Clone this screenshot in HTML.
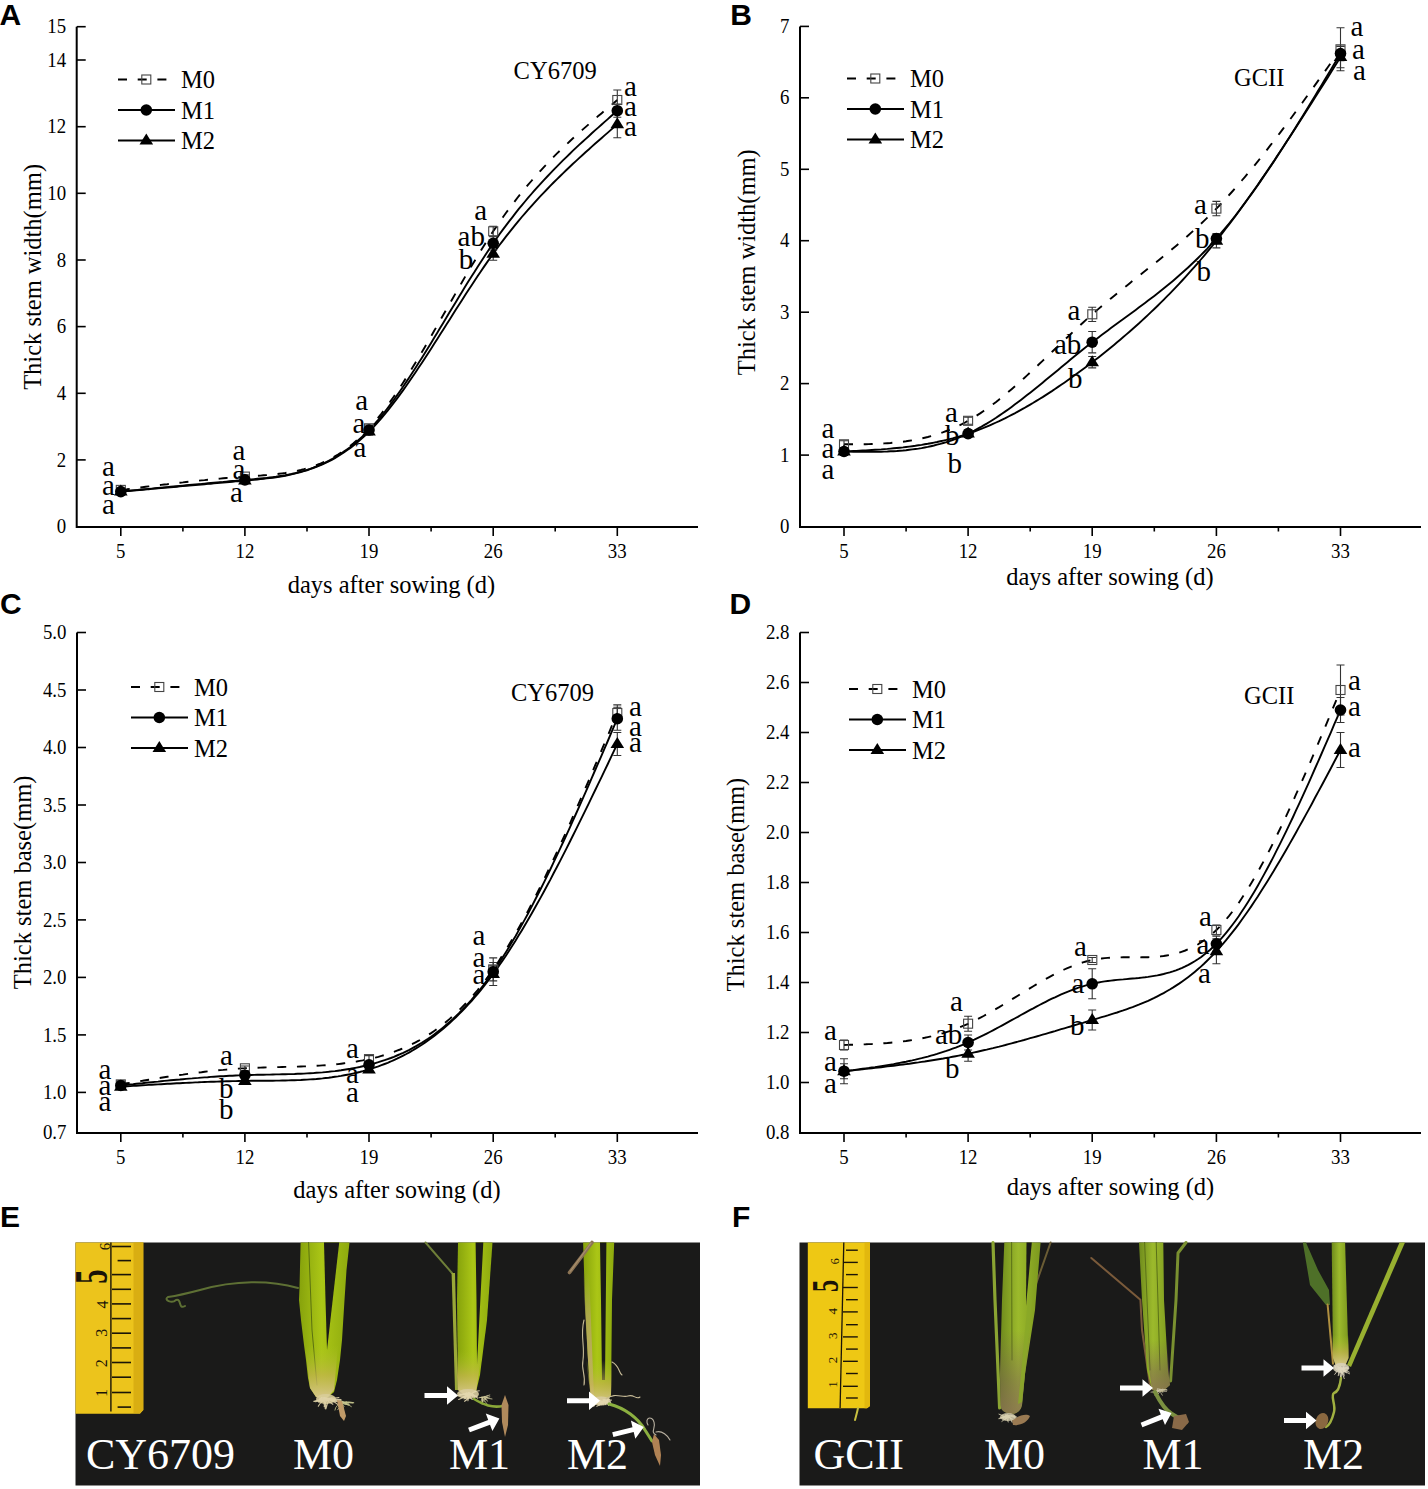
<!DOCTYPE html>
<html><head><meta charset="utf-8"><style>
html,body{margin:0;padding:0;background:#fff;}
body{width:1428px;height:1489px;overflow:hidden;font-family:"Liberation Serif",serif;}
svg{display:block;}
</style></head><body>
<svg width="1428" height="1489" viewBox="0 0 1428 1489" font-family="&quot;Liberation Serif&quot;, serif">
<rect width="100%" height="100%" fill="#fff"/>
<path d="M76.7,26.7 V527 H698" fill="none" stroke="#000" stroke-width="2"/>
<text transform="translate(66.2,533.2) scale(0.92,1)" font-size="20.5" text-anchor="end">0</text>
<line x1="76.7" y1="459.9" x2="85.7" y2="459.9" stroke="#000" stroke-width="1.6"/>
<text transform="translate(66.2,466.5) scale(0.92,1)" font-size="20.5" text-anchor="end">2</text>
<line x1="76.7" y1="393.3" x2="85.7" y2="393.3" stroke="#000" stroke-width="1.6"/>
<text transform="translate(66.2,399.9) scale(0.92,1)" font-size="20.5" text-anchor="end">4</text>
<line x1="76.7" y1="326.6" x2="85.7" y2="326.6" stroke="#000" stroke-width="1.6"/>
<text transform="translate(66.2,333.2) scale(0.92,1)" font-size="20.5" text-anchor="end">6</text>
<line x1="76.7" y1="260.0" x2="85.7" y2="260.0" stroke="#000" stroke-width="1.6"/>
<text transform="translate(66.2,266.6) scale(0.92,1)" font-size="20.5" text-anchor="end">8</text>
<line x1="76.7" y1="193.3" x2="85.7" y2="193.3" stroke="#000" stroke-width="1.6"/>
<text transform="translate(66.2,199.9) scale(0.92,1)" font-size="20.5" text-anchor="end">10</text>
<line x1="76.7" y1="126.7" x2="85.7" y2="126.7" stroke="#000" stroke-width="1.6"/>
<text transform="translate(66.2,133.3) scale(0.92,1)" font-size="20.5" text-anchor="end">12</text>
<line x1="76.7" y1="60.0" x2="85.7" y2="60.0" stroke="#000" stroke-width="1.6"/>
<text transform="translate(66.2,66.6) scale(0.92,1)" font-size="20.5" text-anchor="end">14</text>
<line x1="76.7" y1="26.7" x2="85.7" y2="26.7" stroke="#000" stroke-width="1.6"/>
<text transform="translate(66.2,33.3) scale(0.92,1)" font-size="20.5" text-anchor="end">15</text>
<line x1="120.8" y1="527" x2="120.8" y2="536" stroke="#000" stroke-width="1.6"/>
<text transform="translate(120.8,558.0) scale(0.92,1)" font-size="20.5" text-anchor="middle">5</text>
<line x1="244.9" y1="527" x2="244.9" y2="536" stroke="#000" stroke-width="1.6"/>
<text transform="translate(244.9,558.0) scale(0.92,1)" font-size="20.5" text-anchor="middle">12</text>
<line x1="369.0" y1="527" x2="369.0" y2="536" stroke="#000" stroke-width="1.6"/>
<text transform="translate(369.0,558.0) scale(0.92,1)" font-size="20.5" text-anchor="middle">19</text>
<line x1="493.2" y1="527" x2="493.2" y2="536" stroke="#000" stroke-width="1.6"/>
<text transform="translate(493.2,558.0) scale(0.92,1)" font-size="20.5" text-anchor="middle">26</text>
<line x1="617.3" y1="527" x2="617.3" y2="536" stroke="#000" stroke-width="1.6"/>
<text transform="translate(617.3,558.0) scale(0.92,1)" font-size="20.5" text-anchor="middle">33</text>
<line x1="182.9" y1="527" x2="182.9" y2="531.5" stroke="#000" stroke-width="1.6"/>
<line x1="307.0" y1="527" x2="307.0" y2="531.5" stroke="#000" stroke-width="1.6"/>
<line x1="431.1" y1="527" x2="431.1" y2="531.5" stroke="#000" stroke-width="1.6"/>
<line x1="555.2" y1="527" x2="555.2" y2="531.5" stroke="#000" stroke-width="1.6"/>
<text x="391.4" y="592.6" font-size="24.5" text-anchor="middle" fill="#000" >days after sowing (d)</text>
<text transform="translate(41.2,276.9) rotate(-90)" font-size="24.5" text-anchor="middle">Thick stem width(mm)</text>
<text x="513.6" y="79.0" font-size="24.5" text-anchor="start" fill="#000" >CY6709</text>
<path d="M120.8,489.9 L123.9,489.5 L127.0,489.2 L130.1,488.8 L133.2,488.4 L136.3,488.0 L139.4,487.6 L142.5,487.2 L145.6,486.8 L148.7,486.4 L151.8,486.0 L154.9,485.7 L158.0,485.3 L161.1,484.9 L164.2,484.5 L167.3,484.2 L170.4,483.8 L173.6,483.4 L176.7,483.1 L179.8,482.7 L182.9,482.4 L186.0,482.0 L189.1,481.7 L192.2,481.3 L195.3,481.0 L198.4,480.7 L201.5,480.4 L204.6,480.1 L207.7,479.7 L210.8,479.4 L213.9,479.1 L217.0,478.9 L220.1,478.6 L223.2,478.3 L226.3,478.0 L229.4,477.8 L232.5,477.5 L235.6,477.3 L238.7,477.1 L241.8,476.8 L244.9,476.6 L248.0,476.4 L251.1,476.2 L254.2,476.0 L257.3,475.8 L260.4,475.6 L263.5,475.3 L266.6,475.1 L269.8,474.8 L272.9,474.5 L276.0,474.2 L279.1,473.8 L282.2,473.4 L285.3,473.0 L288.4,472.5 L291.5,472.0 L294.6,471.4 L297.7,470.7 L300.8,470.0 L303.9,469.2 L307.0,468.3 L310.1,467.3 L313.2,466.3 L316.3,465.2 L319.4,464.0 L322.5,462.6 L325.6,461.2 L328.7,459.7 L331.8,458.1 L334.9,456.3 L338.0,454.5 L341.1,452.5 L344.2,450.3 L347.3,448.1 L350.4,445.7 L353.5,443.2 L356.6,440.5 L359.7,437.7 L362.8,434.7 L365.9,431.6 L369.0,428.3 L372.2,424.8 L375.3,421.2 L378.4,417.4 L381.5,413.5 L384.6,409.4 L387.7,405.2 L390.8,400.9 L393.9,396.5 L397.0,391.9 L400.1,387.2 L403.2,382.5 L406.3,377.6 L409.4,372.7 L412.5,367.6 L415.6,362.5 L418.7,357.4 L421.8,352.2 L424.9,346.9 L428.0,341.6 L431.1,336.2 L434.2,330.8 L437.3,325.4 L440.4,320.0 L443.5,314.5 L446.6,309.1 L449.7,303.6 L452.8,298.2 L455.9,292.8 L459.0,287.4 L462.1,282.0 L465.2,276.6 L468.3,271.3 L471.5,266.1 L474.6,260.9 L477.7,255.8 L480.8,250.7 L483.9,245.7 L487.0,240.8 L490.1,236.0 L493.2,231.3 L496.4,226.6 L499.5,222.0 L502.7,217.5 L505.9,213.0 L509.1,208.7 L512.3,204.5 L515.5,200.4 L518.6,196.3 L521.8,192.4 L525.0,188.5 L528.2,184.7 L531.4,181.0 L534.5,177.3 L537.7,173.8 L540.9,170.3 L544.1,166.8 L547.3,163.5 L550.5,160.2 L553.6,156.9 L556.8,153.7 L560.0,150.6 L563.2,147.5 L566.4,144.5 L569.6,141.5 L572.7,138.5 L575.9,135.6 L579.1,132.7 L582.3,129.9 L585.5,127.1 L588.7,124.3 L591.8,121.5 L595.0,118.8 L598.2,116.1 L601.4,113.4 L604.6,110.7 L607.8,108.0 L610.9,105.3 L614.1,102.7 L617.3,100.0" fill="none" stroke="#000" stroke-width="1.9" stroke-dasharray="9,10.7"/>
<path d="M120.8,491.6 L123.9,491.3 L127.0,491.0 L130.1,490.7 L133.2,490.4 L136.3,490.1 L139.4,489.8 L142.5,489.5 L145.6,489.2 L148.7,488.9 L151.8,488.6 L154.9,488.3 L158.0,488.0 L161.1,487.7 L164.2,487.4 L167.3,487.1 L170.4,486.8 L173.6,486.5 L176.7,486.2 L179.8,485.9 L182.9,485.6 L186.0,485.3 L189.1,485.0 L192.2,484.7 L195.3,484.4 L198.4,484.1 L201.5,483.9 L204.6,483.6 L207.7,483.3 L210.8,483.0 L213.9,482.7 L217.0,482.4 L220.1,482.1 L223.2,481.9 L226.3,481.6 L229.4,481.3 L232.5,481.0 L235.6,480.8 L238.7,480.5 L241.8,480.2 L244.9,479.9 L248.0,479.7 L251.1,479.4 L254.2,479.1 L257.3,478.8 L260.4,478.5 L263.5,478.2 L266.6,477.9 L269.8,477.5 L272.9,477.1 L276.0,476.7 L279.1,476.2 L282.2,475.7 L285.3,475.2 L288.4,474.6 L291.5,474.0 L294.6,473.3 L297.7,472.5 L300.8,471.7 L303.9,470.8 L307.0,469.8 L310.1,468.8 L313.2,467.7 L316.3,466.5 L319.4,465.2 L322.5,463.8 L325.6,462.4 L328.7,460.8 L331.8,459.2 L334.9,457.4 L338.0,455.5 L341.1,453.5 L344.2,451.4 L347.3,449.2 L350.4,446.9 L353.5,444.4 L356.6,441.8 L359.7,439.0 L362.8,436.1 L365.9,433.1 L369.0,430.0 L372.2,426.6 L375.3,423.2 L378.4,419.6 L381.5,415.8 L384.6,412.0 L387.7,408.0 L390.8,403.9 L393.9,399.7 L397.0,395.4 L400.1,391.0 L403.2,386.5 L406.3,381.9 L409.4,377.2 L412.5,372.5 L415.6,367.7 L418.7,362.8 L421.8,357.9 L424.9,352.9 L428.0,347.9 L431.1,342.9 L434.2,337.8 L437.3,332.7 L440.4,327.6 L443.5,322.4 L446.6,317.3 L449.7,312.1 L452.8,307.0 L455.9,301.9 L459.0,296.8 L462.1,291.7 L465.2,286.6 L468.3,281.6 L471.5,276.6 L474.6,271.7 L477.7,266.8 L480.8,261.9 L483.9,257.2 L487.0,252.5 L490.1,247.9 L493.2,243.3 L496.4,238.8 L499.5,234.3 L502.7,229.9 L505.9,225.6 L509.1,221.4 L512.3,217.3 L515.5,213.2 L518.6,209.2 L521.8,205.3 L525.0,201.5 L528.2,197.7 L531.4,194.0 L534.5,190.4 L537.7,186.8 L540.9,183.3 L544.1,179.9 L547.3,176.5 L550.5,173.1 L553.6,169.8 L556.8,166.6 L560.0,163.4 L563.2,160.2 L566.4,157.1 L569.6,154.0 L572.7,150.9 L575.9,147.9 L579.1,144.9 L582.3,142.0 L585.5,139.1 L588.7,136.2 L591.8,133.3 L595.0,130.4 L598.2,127.6 L601.4,124.7 L604.6,121.9 L607.8,119.1 L610.9,116.3 L614.1,113.5 L617.3,110.7" fill="none" stroke="#000" stroke-width="1.9"/>
<path d="M120.8,491.6 L123.9,491.3 L127.0,491.1 L130.1,490.8 L133.2,490.5 L136.3,490.2 L139.4,490.0 L142.5,489.7 L145.6,489.4 L148.7,489.2 L151.8,488.9 L154.9,488.6 L158.0,488.3 L161.1,488.1 L164.2,487.8 L167.3,487.5 L170.4,487.2 L173.6,487.0 L176.7,486.7 L179.8,486.4 L182.9,486.1 L186.0,485.9 L189.1,485.6 L192.2,485.3 L195.3,485.0 L198.4,484.8 L201.5,484.5 L204.6,484.2 L207.7,483.9 L210.8,483.7 L213.9,483.4 L217.0,483.1 L220.1,482.8 L223.2,482.6 L226.3,482.3 L229.4,482.0 L232.5,481.7 L235.6,481.4 L238.7,481.2 L241.8,480.9 L244.9,480.6 L248.0,480.3 L251.1,480.0 L254.2,479.8 L257.3,479.5 L260.4,479.1 L263.5,478.8 L266.6,478.4 L269.8,478.1 L272.9,477.7 L276.0,477.2 L279.1,476.7 L282.2,476.2 L285.3,475.7 L288.4,475.0 L291.5,474.4 L294.6,473.7 L297.7,472.9 L300.8,472.1 L303.9,471.2 L307.0,470.3 L310.1,469.2 L313.2,468.1 L316.3,466.9 L319.4,465.7 L322.5,464.3 L325.6,462.9 L328.7,461.4 L331.8,459.8 L334.9,458.1 L338.0,456.2 L341.1,454.3 L344.2,452.3 L347.3,450.1 L350.4,447.9 L353.5,445.5 L356.6,443.0 L359.7,440.3 L362.8,437.6 L365.9,434.7 L369.0,431.6 L372.2,428.4 L375.3,425.1 L378.4,421.7 L381.5,418.1 L384.6,414.4 L387.7,410.6 L390.8,406.7 L393.9,402.7 L397.0,398.6 L400.1,394.4 L403.2,390.1 L406.3,385.8 L409.4,381.3 L412.5,376.8 L415.6,372.3 L418.7,367.6 L421.8,363.0 L424.9,358.2 L428.0,353.5 L431.1,348.7 L434.2,343.8 L437.3,339.0 L440.4,334.1 L443.5,329.2 L446.6,324.3 L449.7,319.4 L452.8,314.5 L455.9,309.6 L459.0,304.7 L462.1,299.9 L465.2,295.1 L468.3,290.3 L471.5,285.5 L474.6,280.8 L477.7,276.1 L480.8,271.5 L483.9,266.9 L487.0,262.4 L490.1,258.0 L493.2,253.7 L496.4,249.3 L499.5,245.0 L502.7,240.8 L505.9,236.6 L509.1,232.6 L512.3,228.6 L515.5,224.7 L518.6,220.8 L521.8,217.0 L525.0,213.3 L528.2,209.7 L531.4,206.1 L534.5,202.6 L537.7,199.1 L540.9,195.7 L544.1,192.3 L547.3,189.0 L550.5,185.7 L553.6,182.5 L556.8,179.3 L560.0,176.2 L563.2,173.1 L566.4,170.0 L569.6,167.0 L572.7,164.0 L575.9,161.1 L579.1,158.1 L582.3,155.2 L585.5,152.3 L588.7,149.5 L591.8,146.6 L595.0,143.8 L598.2,141.0 L601.4,138.2 L604.6,135.4 L607.8,132.6 L610.9,129.9 L614.1,127.1 L617.3,124.3" fill="none" stroke="#000" stroke-width="1.9"/>
<path d="M116.8,488.3 H124.8 M120.8,488.3 V491.6 M116.8,491.6 H124.8" stroke="#333" stroke-width="1.1" fill="none"/>
<path d="M240.9,474.9 H248.9 M244.9,474.9 V478.3 M240.9,478.3 H248.9" stroke="#333" stroke-width="1.1" fill="none"/>
<path d="M365.0,425.0 H373.0 M369.0,425.0 V431.6 M365.0,431.6 H373.0" stroke="#333" stroke-width="1.1" fill="none"/>
<path d="M489.2,226.3 H497.2 M493.2,226.3 V236.3 M489.2,236.3 H497.2" stroke="#333" stroke-width="1.1" fill="none"/>
<path d="M613.3,90.0 H621.3 M617.3,90.0 V110.0 M613.3,110.0 H621.3" stroke="#333" stroke-width="1.1" fill="none"/>
<path d="M116.8,489.9 H124.8 M120.8,489.9 V493.3 M116.8,493.3 H124.8" stroke="#333" stroke-width="1.1" fill="none"/>
<path d="M240.9,478.3 H248.9 M244.9,478.3 V481.6 M240.9,481.6 H248.9" stroke="#333" stroke-width="1.1" fill="none"/>
<path d="M365.0,426.6 H373.0 M369.0,426.6 V433.3 M365.0,433.3 H373.0" stroke="#333" stroke-width="1.1" fill="none"/>
<path d="M489.2,236.7 H497.2 M493.2,236.7 V250.0 M489.2,250.0 H497.2" stroke="#333" stroke-width="1.1" fill="none"/>
<path d="M613.3,104.0 H621.3 M617.3,104.0 V117.3 M613.3,117.3 H621.3" stroke="#333" stroke-width="1.1" fill="none"/>
<path d="M116.8,489.9 H124.8 M120.8,489.9 V493.3 M116.8,493.3 H124.8" stroke="#333" stroke-width="1.1" fill="none"/>
<path d="M240.9,478.9 H248.9 M244.9,478.9 V482.3 M240.9,482.3 H248.9" stroke="#333" stroke-width="1.1" fill="none"/>
<path d="M365.0,428.3 H373.0 M369.0,428.3 V435.0 M365.0,435.0 H373.0" stroke="#333" stroke-width="1.1" fill="none"/>
<path d="M489.2,247.0 H497.2 M493.2,247.0 V260.3 M489.2,260.3 H497.2" stroke="#333" stroke-width="1.1" fill="none"/>
<path d="M613.3,111.0 H621.3 M617.3,111.0 V137.7 M613.3,137.7 H621.3" stroke="#333" stroke-width="1.1" fill="none"/>
<rect x="116.3" y="485.4" width="9" height="9" fill="none" stroke="#444" stroke-width="1.1"/>
<rect x="240.4" y="472.1" width="9" height="9" fill="none" stroke="#444" stroke-width="1.1"/>
<rect x="364.5" y="423.8" width="9" height="9" fill="none" stroke="#444" stroke-width="1.1"/>
<rect x="488.7" y="226.8" width="9" height="9" fill="none" stroke="#444" stroke-width="1.1"/>
<rect x="612.8" y="95.5" width="9" height="9" fill="none" stroke="#444" stroke-width="1.1"/>
<circle cx="120.8" cy="491.6" r="5.8" fill="#000"/>
<circle cx="244.9" cy="479.9" r="5.8" fill="#000"/>
<circle cx="369.0" cy="430.0" r="5.8" fill="#000"/>
<circle cx="493.2" cy="243.3" r="5.8" fill="#000"/>
<circle cx="617.3" cy="110.7" r="5.8" fill="#000"/>
<path d="M120.8,484.6 L127.6,495.6 L114.0,495.6 Z" fill="#000"/>
<path d="M244.9,473.6 L251.7,484.6 L238.1,484.6 Z" fill="#000"/>
<path d="M369.0,424.6 L375.8,435.6 L362.2,435.6 Z" fill="#000"/>
<path d="M493.2,246.7 L500.0,257.7 L486.4,257.7 Z" fill="#000"/>
<path d="M617.3,117.3 L624.1,128.3 L610.5,128.3 Z" fill="#000"/>
<text x="102.0" y="476.0" font-size="29" text-anchor="start" fill="#000" >a</text>
<text x="102.0" y="495.4" font-size="29" text-anchor="start" fill="#000" >a</text>
<text x="102.0" y="514.0" font-size="29" text-anchor="start" fill="#000" >a</text>
<text x="232.4" y="459.6" font-size="29" text-anchor="start" fill="#000" >a</text>
<text x="232.4" y="478.6" font-size="29" text-anchor="start" fill="#000" >a</text>
<text x="230.0" y="502.0" font-size="29" text-anchor="start" fill="#000" >a</text>
<text x="355.2" y="410.3" font-size="29" text-anchor="start" fill="#000" >a</text>
<text x="352.4" y="432.7" font-size="29" text-anchor="start" fill="#000" >a</text>
<text x="353.4" y="457.3" font-size="29" text-anchor="start" fill="#000" >a</text>
<text x="474.3" y="219.5" font-size="29" text-anchor="start" fill="#000" >a</text>
<text x="457.6" y="246.4" font-size="29" text-anchor="start" fill="#000" >ab</text>
<text x="458.8" y="269.0" font-size="29" text-anchor="start" fill="#000" >b</text>
<text x="624.0" y="95.7" font-size="29" text-anchor="start" fill="#000" >a</text>
<text x="624.0" y="116.2" font-size="29" text-anchor="start" fill="#000" >a</text>
<text x="624.0" y="135.7" font-size="29" text-anchor="start" fill="#000" >a</text>
<path d="M118,79.5 h9 M137.7,79.5 h9 M157.4,79.5 h9" stroke="#000" stroke-width="1.8"/>
<rect x="141.8" y="75.0" width="9" height="9" fill="none" stroke="#444" stroke-width="1.1"/>
<text x="181.0" y="88.1" font-size="24.5" text-anchor="start" fill="#000" >M0</text>
<line x1="118" y1="110.0" x2="175" y2="110.0" stroke="#000" stroke-width="1.8"/>
<circle cx="146.3" cy="110.0" r="5.8" fill="#000"/>
<text x="181.0" y="118.6" font-size="24.5" text-anchor="start" fill="#000" >M1</text>
<line x1="118" y1="140.5" x2="175" y2="140.5" stroke="#000" stroke-width="1.8"/>
<path d="M146.3,133.5 L153.1,144.5 L139.5,144.5 Z" fill="#000"/>
<text x="181.0" y="149.1" font-size="24.5" text-anchor="start" fill="#000" >M2</text>
<path d="M800,26.4 V527 H1421" fill="none" stroke="#000" stroke-width="2"/>
<text transform="translate(789.5,533.1) scale(0.92,1)" font-size="20.5" text-anchor="end">0</text>
<line x1="800" y1="455.1" x2="809" y2="455.1" stroke="#000" stroke-width="1.6"/>
<text transform="translate(789.5,461.7) scale(0.92,1)" font-size="20.5" text-anchor="end">1</text>
<line x1="800" y1="383.6" x2="809" y2="383.6" stroke="#000" stroke-width="1.6"/>
<text transform="translate(789.5,390.2) scale(0.92,1)" font-size="20.5" text-anchor="end">2</text>
<line x1="800" y1="312.2" x2="809" y2="312.2" stroke="#000" stroke-width="1.6"/>
<text transform="translate(789.5,318.8) scale(0.92,1)" font-size="20.5" text-anchor="end">3</text>
<line x1="800" y1="240.7" x2="809" y2="240.7" stroke="#000" stroke-width="1.6"/>
<text transform="translate(789.5,247.3) scale(0.92,1)" font-size="20.5" text-anchor="end">4</text>
<line x1="800" y1="169.3" x2="809" y2="169.3" stroke="#000" stroke-width="1.6"/>
<text transform="translate(789.5,175.9) scale(0.92,1)" font-size="20.5" text-anchor="end">5</text>
<line x1="800" y1="97.8" x2="809" y2="97.8" stroke="#000" stroke-width="1.6"/>
<text transform="translate(789.5,104.4) scale(0.92,1)" font-size="20.5" text-anchor="end">6</text>
<line x1="800" y1="26.4" x2="809" y2="26.4" stroke="#000" stroke-width="1.6"/>
<text transform="translate(789.5,33.0) scale(0.92,1)" font-size="20.5" text-anchor="end">7</text>
<line x1="844.0" y1="527" x2="844.0" y2="536" stroke="#000" stroke-width="1.6"/>
<text transform="translate(844.0,558.0) scale(0.92,1)" font-size="20.5" text-anchor="middle">5</text>
<line x1="968.1" y1="527" x2="968.1" y2="536" stroke="#000" stroke-width="1.6"/>
<text transform="translate(968.1,558.0) scale(0.92,1)" font-size="20.5" text-anchor="middle">12</text>
<line x1="1092.2" y1="527" x2="1092.2" y2="536" stroke="#000" stroke-width="1.6"/>
<text transform="translate(1092.2,558.0) scale(0.92,1)" font-size="20.5" text-anchor="middle">19</text>
<line x1="1216.4" y1="527" x2="1216.4" y2="536" stroke="#000" stroke-width="1.6"/>
<text transform="translate(1216.4,558.0) scale(0.92,1)" font-size="20.5" text-anchor="middle">26</text>
<line x1="1340.5" y1="527" x2="1340.5" y2="536" stroke="#000" stroke-width="1.6"/>
<text transform="translate(1340.5,558.0) scale(0.92,1)" font-size="20.5" text-anchor="middle">33</text>
<line x1="906.1" y1="527" x2="906.1" y2="531.5" stroke="#000" stroke-width="1.6"/>
<line x1="1030.2" y1="527" x2="1030.2" y2="531.5" stroke="#000" stroke-width="1.6"/>
<line x1="1154.3" y1="527" x2="1154.3" y2="531.5" stroke="#000" stroke-width="1.6"/>
<line x1="1278.4" y1="527" x2="1278.4" y2="531.5" stroke="#000" stroke-width="1.6"/>
<text x="1109.9" y="585.0" font-size="24.5" text-anchor="middle" fill="#000" >days after sowing (d)</text>
<text transform="translate(754.6,262.2) rotate(-90)" font-size="24.5" text-anchor="middle">Thick stem width(mm)</text>
<text x="1234.0" y="86.0" font-size="24.5" text-anchor="start" fill="#000" >GCII</text>
<path d="M844.0,444.3 L847.1,444.3 L850.2,444.3 L853.3,444.3 L856.4,444.3 L859.5,444.2 L862.6,444.2 L865.7,444.2 L868.8,444.1 L871.9,444.0 L875.0,443.9 L878.1,443.8 L881.2,443.6 L884.3,443.4 L887.4,443.2 L890.5,443.0 L893.6,442.7 L896.8,442.4 L899.9,442.1 L903.0,441.7 L906.1,441.3 L909.2,440.8 L912.3,440.3 L915.4,439.7 L918.5,439.1 L921.6,438.4 L924.7,437.7 L927.8,437.0 L930.9,436.1 L934.0,435.2 L937.1,434.3 L940.2,433.3 L943.3,432.2 L946.4,431.0 L949.5,429.8 L952.6,428.5 L955.7,427.1 L958.8,425.6 L961.9,424.1 L965.0,422.5 L968.1,420.8 L971.2,419.0 L974.3,417.1 L977.4,415.1 L980.5,413.1 L983.6,411.0 L986.7,408.8 L989.8,406.6 L993.0,404.2 L996.1,401.9 L999.2,399.4 L1002.3,396.9 L1005.4,394.4 L1008.5,391.8 L1011.6,389.2 L1014.7,386.5 L1017.8,383.8 L1020.9,381.0 L1024.0,378.2 L1027.1,375.4 L1030.2,372.5 L1033.3,369.6 L1036.4,366.7 L1039.5,363.8 L1042.6,360.9 L1045.7,357.9 L1048.8,355.0 L1051.9,352.0 L1055.0,349.0 L1058.1,346.1 L1061.2,343.1 L1064.3,340.1 L1067.4,337.2 L1070.5,334.3 L1073.6,331.3 L1076.7,328.4 L1079.8,325.6 L1082.9,322.7 L1086.0,319.9 L1089.1,317.1 L1092.2,314.3 L1095.4,311.6 L1098.5,308.9 L1101.6,306.2 L1104.7,303.6 L1107.8,301.0 L1110.9,298.4 L1114.0,295.9 L1117.1,293.4 L1120.2,290.8 L1123.3,288.3 L1126.4,285.9 L1129.5,283.4 L1132.6,280.9 L1135.7,278.5 L1138.8,276.0 L1141.9,273.5 L1145.0,271.1 L1148.1,268.6 L1151.2,266.1 L1154.3,263.7 L1157.4,261.2 L1160.5,258.7 L1163.6,256.2 L1166.7,253.6 L1169.8,251.1 L1172.9,248.5 L1176.0,245.9 L1179.1,243.3 L1182.2,240.6 L1185.3,237.9 L1188.4,235.2 L1191.5,232.4 L1194.7,229.6 L1197.8,226.7 L1200.9,223.8 L1204.0,220.9 L1207.1,217.9 L1210.2,214.8 L1213.3,211.7 L1216.4,208.6 L1219.6,205.3 L1222.7,201.9 L1225.9,198.5 L1229.1,195.0 L1232.3,191.5 L1235.5,187.9 L1238.7,184.2 L1241.8,180.5 L1245.0,176.8 L1248.2,173.0 L1251.4,169.2 L1254.6,165.3 L1257.8,161.4 L1260.9,157.4 L1264.1,153.4 L1267.3,149.3 L1270.5,145.2 L1273.7,141.1 L1276.8,137.0 L1280.0,132.8 L1283.2,128.6 L1286.4,124.3 L1289.6,120.0 L1292.8,115.7 L1295.9,111.4 L1299.1,107.1 L1302.3,102.7 L1305.5,98.3 L1308.7,93.9 L1311.9,89.5 L1315.0,85.1 L1318.2,80.6 L1321.4,76.2 L1324.6,71.7 L1327.8,67.2 L1331.0,62.7 L1334.1,58.2 L1337.3,53.8 L1340.5,49.3" fill="none" stroke="#000" stroke-width="1.9" stroke-dasharray="9,10.7"/>
<path d="M844.0,451.5 L847.1,451.5 L850.2,451.6 L853.3,451.7 L856.4,451.7 L859.5,451.7 L862.6,451.8 L865.7,451.8 L868.8,451.8 L871.9,451.8 L875.0,451.8 L878.1,451.7 L881.2,451.7 L884.3,451.6 L887.4,451.5 L890.5,451.3 L893.6,451.2 L896.8,451.0 L899.9,450.7 L903.0,450.5 L906.1,450.2 L909.2,449.8 L912.3,449.4 L915.4,449.0 L918.5,448.6 L921.6,448.1 L924.7,447.5 L927.8,446.9 L930.9,446.2 L934.0,445.5 L937.1,444.7 L940.2,443.9 L943.3,443.0 L946.4,442.1 L949.5,441.1 L952.6,440.0 L955.7,438.9 L958.8,437.7 L961.9,436.4 L965.0,435.0 L968.1,433.6 L971.2,432.1 L974.3,430.6 L977.4,428.9 L980.5,427.2 L983.6,425.4 L986.7,423.6 L989.8,421.7 L993.0,419.7 L996.1,417.7 L999.2,415.6 L1002.3,413.5 L1005.4,411.4 L1008.5,409.2 L1011.6,406.9 L1014.7,404.6 L1017.8,402.3 L1020.9,399.9 L1024.0,397.5 L1027.1,395.1 L1030.2,392.7 L1033.3,390.2 L1036.4,387.7 L1039.5,385.2 L1042.6,382.7 L1045.7,380.1 L1048.8,377.6 L1051.9,375.0 L1055.0,372.4 L1058.1,369.9 L1061.2,367.3 L1064.3,364.7 L1067.4,362.2 L1070.5,359.6 L1073.6,357.1 L1076.7,354.5 L1079.8,352.0 L1082.9,349.5 L1086.0,347.1 L1089.1,344.6 L1092.2,342.2 L1095.4,339.8 L1098.5,337.4 L1101.6,335.1 L1104.7,332.7 L1107.8,330.4 L1110.9,328.1 L1114.0,325.8 L1117.1,323.5 L1120.2,321.3 L1123.3,319.0 L1126.4,316.7 L1129.5,314.5 L1132.6,312.2 L1135.7,309.9 L1138.8,307.6 L1141.9,305.3 L1145.0,303.0 L1148.1,300.6 L1151.2,298.3 L1154.3,295.9 L1157.4,293.5 L1160.5,291.0 L1163.6,288.5 L1166.7,286.0 L1169.8,283.5 L1172.9,280.9 L1176.0,278.2 L1179.1,275.5 L1182.2,272.8 L1185.3,270.0 L1188.4,267.2 L1191.5,264.3 L1194.7,261.3 L1197.8,258.3 L1200.9,255.2 L1204.0,252.0 L1207.1,248.8 L1210.2,245.4 L1213.3,242.1 L1216.4,238.6 L1219.6,234.9 L1222.7,231.2 L1225.9,227.4 L1229.1,223.5 L1232.3,219.5 L1235.5,215.5 L1238.7,211.3 L1241.8,207.1 L1245.0,202.9 L1248.2,198.5 L1251.4,194.1 L1254.6,189.7 L1257.8,185.2 L1260.9,180.6 L1264.1,175.9 L1267.3,171.2 L1270.5,166.5 L1273.7,161.7 L1276.8,156.9 L1280.0,152.0 L1283.2,147.0 L1286.4,142.1 L1289.6,137.1 L1292.8,132.0 L1295.9,126.9 L1299.1,121.8 L1302.3,116.7 L1305.5,111.5 L1308.7,106.3 L1311.9,101.1 L1315.0,95.9 L1318.2,90.6 L1321.4,85.4 L1324.6,80.1 L1327.8,74.8 L1331.0,69.5 L1334.1,64.2 L1337.3,58.9 L1340.5,53.5" fill="none" stroke="#000" stroke-width="1.9"/>
<path d="M844.0,451.5 L847.1,451.3 L850.2,451.2 L853.3,451.0 L856.4,450.9 L859.5,450.7 L862.6,450.5 L865.7,450.4 L868.8,450.2 L871.9,450.0 L875.0,449.8 L878.1,449.6 L881.2,449.4 L884.3,449.1 L887.4,448.9 L890.5,448.6 L893.6,448.3 L896.8,448.0 L899.9,447.7 L903.0,447.4 L906.1,447.0 L909.2,446.6 L912.3,446.2 L915.4,445.8 L918.5,445.3 L921.6,444.9 L924.7,444.3 L927.8,443.8 L930.9,443.2 L934.0,442.6 L937.1,442.0 L940.2,441.3 L943.3,440.6 L946.4,439.9 L949.5,439.1 L952.6,438.3 L955.7,437.4 L958.8,436.6 L961.9,435.6 L965.0,434.6 L968.1,433.6 L971.2,432.6 L974.3,431.5 L977.4,430.3 L980.5,429.1 L983.6,427.9 L986.7,426.6 L989.8,425.3 L993.0,423.9 L996.1,422.5 L999.2,421.1 L1002.3,419.6 L1005.4,418.1 L1008.5,416.5 L1011.6,414.9 L1014.7,413.3 L1017.8,411.6 L1020.9,409.9 L1024.0,408.2 L1027.1,406.4 L1030.2,404.6 L1033.3,402.8 L1036.4,400.9 L1039.5,399.0 L1042.6,397.1 L1045.7,395.1 L1048.8,393.1 L1051.9,391.1 L1055.0,389.0 L1058.1,386.9 L1061.2,384.8 L1064.3,382.7 L1067.4,380.5 L1070.5,378.3 L1073.6,376.1 L1076.7,373.8 L1079.8,371.5 L1082.9,369.2 L1086.0,366.9 L1089.1,364.6 L1092.2,362.2 L1095.4,359.8 L1098.5,357.4 L1101.6,354.9 L1104.7,352.5 L1107.8,350.0 L1110.9,347.4 L1114.0,344.9 L1117.1,342.3 L1120.2,339.7 L1123.3,337.1 L1126.4,334.4 L1129.5,331.7 L1132.6,329.0 L1135.7,326.2 L1138.8,323.5 L1141.9,320.6 L1145.0,317.8 L1148.1,314.9 L1151.2,311.9 L1154.3,309.0 L1157.4,306.0 L1160.5,302.9 L1163.6,299.8 L1166.7,296.7 L1169.8,293.6 L1172.9,290.4 L1176.0,287.1 L1179.1,283.8 L1182.2,280.5 L1185.3,277.1 L1188.4,273.7 L1191.5,270.2 L1194.7,266.7 L1197.8,263.1 L1200.9,259.5 L1204.0,255.9 L1207.1,252.2 L1210.2,248.4 L1213.3,244.6 L1216.4,240.7 L1219.6,236.7 L1222.7,232.6 L1225.9,228.5 L1229.1,224.3 L1232.3,220.1 L1235.5,215.9 L1238.7,211.5 L1241.8,207.2 L1245.0,202.8 L1248.2,198.3 L1251.4,193.8 L1254.6,189.3 L1257.8,184.7 L1260.9,180.1 L1264.1,175.5 L1267.3,170.8 L1270.5,166.1 L1273.7,161.4 L1276.8,156.6 L1280.0,151.8 L1283.2,147.0 L1286.4,142.1 L1289.6,137.2 L1292.8,132.3 L1295.9,127.4 L1299.1,122.5 L1302.3,117.5 L1305.5,112.6 L1308.7,107.6 L1311.9,102.6 L1315.0,97.5 L1318.2,92.5 L1321.4,87.5 L1324.6,82.4 L1327.8,77.4 L1331.0,72.3 L1334.1,67.3 L1337.3,62.2 L1340.5,57.1" fill="none" stroke="#000" stroke-width="1.9"/>
<path d="M840.0,440.8 H848.0 M844.0,440.8 V447.9 M840.0,447.9 H848.0" stroke="#333" stroke-width="1.1" fill="none"/>
<path d="M964.1,417.2 H972.1 M968.1,417.2 V424.3 M964.1,424.3 H972.1" stroke="#333" stroke-width="1.1" fill="none"/>
<path d="M1088.2,307.2 H1096.2 M1092.2,307.2 V321.5 M1088.2,321.5 H1096.2" stroke="#333" stroke-width="1.1" fill="none"/>
<path d="M1212.4,201.4 H1220.4 M1216.4,201.4 V215.7 M1212.4,215.7 H1220.4" stroke="#333" stroke-width="1.1" fill="none"/>
<path d="M1336.5,27.8 H1344.5 M1340.5,27.8 V70.7 M1336.5,70.7 H1344.5" stroke="#333" stroke-width="1.1" fill="none"/>
<path d="M840.0,447.9 H848.0 M844.0,447.9 V455.1 M840.0,455.1 H848.0" stroke="#333" stroke-width="1.1" fill="none"/>
<path d="M964.1,430.1 H972.1 M968.1,430.1 V437.2 M964.1,437.2 H972.1" stroke="#333" stroke-width="1.1" fill="none"/>
<path d="M1088.2,331.5 H1096.2 M1092.2,331.5 V352.9 M1088.2,352.9 H1096.2" stroke="#333" stroke-width="1.1" fill="none"/>
<path d="M1212.4,235.0 H1220.4 M1216.4,235.0 V242.2 M1212.4,242.2 H1220.4" stroke="#333" stroke-width="1.1" fill="none"/>
<path d="M1336.5,46.4 H1344.5 M1340.5,46.4 V60.7 M1336.5,60.7 H1344.5" stroke="#333" stroke-width="1.1" fill="none"/>
<path d="M840.0,447.9 H848.0 M844.0,447.9 V455.1 M840.0,455.1 H848.0" stroke="#333" stroke-width="1.1" fill="none"/>
<path d="M964.1,430.1 H972.1 M968.1,430.1 V437.2 M964.1,437.2 H972.1" stroke="#333" stroke-width="1.1" fill="none"/>
<path d="M1088.2,356.5 H1096.2 M1092.2,356.5 V367.9 M1088.2,367.9 H1096.2" stroke="#333" stroke-width="1.1" fill="none"/>
<path d="M1212.4,233.6 H1220.4 M1216.4,233.6 V247.9 M1212.4,247.9 H1220.4" stroke="#333" stroke-width="1.1" fill="none"/>
<path d="M1336.5,46.4 H1344.5 M1340.5,46.4 V67.8 M1336.5,67.8 H1344.5" stroke="#333" stroke-width="1.1" fill="none"/>
<rect x="839.5" y="439.8" width="9" height="9" fill="none" stroke="#444" stroke-width="1.1"/>
<rect x="963.6" y="416.3" width="9" height="9" fill="none" stroke="#444" stroke-width="1.1"/>
<rect x="1087.8" y="309.8" width="9" height="9" fill="none" stroke="#444" stroke-width="1.1"/>
<rect x="1211.9" y="204.1" width="9" height="9" fill="none" stroke="#444" stroke-width="1.1"/>
<rect x="1336.0" y="44.8" width="9" height="9" fill="none" stroke="#444" stroke-width="1.1"/>
<circle cx="844.0" cy="451.5" r="5.8" fill="#000"/>
<circle cx="968.1" cy="433.6" r="5.8" fill="#000"/>
<circle cx="1092.2" cy="342.2" r="5.8" fill="#000"/>
<circle cx="1216.4" cy="238.6" r="5.8" fill="#000"/>
<circle cx="1340.5" cy="53.5" r="5.8" fill="#000"/>
<path d="M844.0,444.5 L850.8,455.5 L837.2,455.5 Z" fill="#000"/>
<path d="M968.1,426.6 L974.9,437.6 L961.3,437.6 Z" fill="#000"/>
<path d="M1092.2,355.2 L1099.0,366.2 L1085.5,366.2 Z" fill="#000"/>
<path d="M1216.4,233.7 L1223.2,244.7 L1209.6,244.7 Z" fill="#000"/>
<path d="M1340.5,50.1 L1347.3,61.1 L1333.7,61.1 Z" fill="#000"/>
<text x="821.5" y="437.5" font-size="29" text-anchor="start" fill="#000" >a</text>
<text x="821.5" y="457.5" font-size="29" text-anchor="start" fill="#000" >a</text>
<text x="821.5" y="479.0" font-size="29" text-anchor="start" fill="#000" >a</text>
<text x="945.0" y="421.5" font-size="29" text-anchor="start" fill="#000" >a</text>
<text x="945.0" y="445.0" font-size="29" text-anchor="start" fill="#000" >b</text>
<text x="947.5" y="472.5" font-size="29" text-anchor="start" fill="#000" >b</text>
<text x="1067.5" y="320.0" font-size="29" text-anchor="start" fill="#000" >a</text>
<text x="1054.0" y="354.0" font-size="29" text-anchor="start" fill="#000" >ab</text>
<text x="1068.0" y="387.5" font-size="29" text-anchor="start" fill="#000" >b</text>
<text x="1194.0" y="213.5" font-size="29" text-anchor="start" fill="#000" >a</text>
<text x="1195.0" y="247.5" font-size="29" text-anchor="start" fill="#000" >b</text>
<text x="1196.5" y="281.0" font-size="29" text-anchor="start" fill="#000" >b</text>
<text x="1350.5" y="35.5" font-size="29" text-anchor="start" fill="#000" >a</text>
<text x="1352.0" y="58.8" font-size="29" text-anchor="start" fill="#000" >a</text>
<text x="1353.0" y="79.6" font-size="29" text-anchor="start" fill="#000" >a</text>
<path d="M847,78.5 h9 M866.7,78.5 h9 M886.4,78.5 h9" stroke="#000" stroke-width="1.8"/>
<rect x="870.8" y="74.0" width="9" height="9" fill="none" stroke="#444" stroke-width="1.1"/>
<text x="910.0" y="87.1" font-size="24.5" text-anchor="start" fill="#000" >M0</text>
<line x1="847" y1="109.0" x2="904" y2="109.0" stroke="#000" stroke-width="1.8"/>
<circle cx="875.3" cy="109.0" r="5.8" fill="#000"/>
<text x="910.0" y="117.6" font-size="24.5" text-anchor="start" fill="#000" >M1</text>
<line x1="847" y1="139.5" x2="904" y2="139.5" stroke="#000" stroke-width="1.8"/>
<path d="M875.3,132.5 L882.1,143.5 L868.5,143.5 Z" fill="#000"/>
<text x="910.0" y="148.1" font-size="24.5" text-anchor="start" fill="#000" >M2</text>
<path d="M77,632.5 V1133 H698" fill="none" stroke="#000" stroke-width="2"/>
<text transform="translate(66.5,1139.2) scale(0.92,1)" font-size="20.5" text-anchor="end">0.7</text>
<line x1="77" y1="1092.4" x2="86" y2="1092.4" stroke="#000" stroke-width="1.6"/>
<text transform="translate(66.5,1099.0) scale(0.92,1)" font-size="20.5" text-anchor="end">1.0</text>
<line x1="77" y1="1034.9" x2="86" y2="1034.9" stroke="#000" stroke-width="1.6"/>
<text transform="translate(66.5,1041.5) scale(0.92,1)" font-size="20.5" text-anchor="end">1.5</text>
<line x1="77" y1="977.4" x2="86" y2="977.4" stroke="#000" stroke-width="1.6"/>
<text transform="translate(66.5,984.0) scale(0.92,1)" font-size="20.5" text-anchor="end">2.0</text>
<line x1="77" y1="919.9" x2="86" y2="919.9" stroke="#000" stroke-width="1.6"/>
<text transform="translate(66.5,926.5) scale(0.92,1)" font-size="20.5" text-anchor="end">2.5</text>
<line x1="77" y1="862.5" x2="86" y2="862.5" stroke="#000" stroke-width="1.6"/>
<text transform="translate(66.5,869.1) scale(0.92,1)" font-size="20.5" text-anchor="end">3.0</text>
<line x1="77" y1="805.0" x2="86" y2="805.0" stroke="#000" stroke-width="1.6"/>
<text transform="translate(66.5,811.6) scale(0.92,1)" font-size="20.5" text-anchor="end">3.5</text>
<line x1="77" y1="747.5" x2="86" y2="747.5" stroke="#000" stroke-width="1.6"/>
<text transform="translate(66.5,754.1) scale(0.92,1)" font-size="20.5" text-anchor="end">4.0</text>
<line x1="77" y1="690.0" x2="86" y2="690.0" stroke="#000" stroke-width="1.6"/>
<text transform="translate(66.5,696.6) scale(0.92,1)" font-size="20.5" text-anchor="end">4.5</text>
<line x1="77" y1="632.5" x2="86" y2="632.5" stroke="#000" stroke-width="1.6"/>
<text transform="translate(66.5,639.1) scale(0.92,1)" font-size="20.5" text-anchor="end">5.0</text>
<line x1="120.8" y1="1133" x2="120.8" y2="1142" stroke="#000" stroke-width="1.6"/>
<text transform="translate(120.8,1164.0) scale(0.92,1)" font-size="20.5" text-anchor="middle">5</text>
<line x1="244.9" y1="1133" x2="244.9" y2="1142" stroke="#000" stroke-width="1.6"/>
<text transform="translate(244.9,1164.0) scale(0.92,1)" font-size="20.5" text-anchor="middle">12</text>
<line x1="369.0" y1="1133" x2="369.0" y2="1142" stroke="#000" stroke-width="1.6"/>
<text transform="translate(369.0,1164.0) scale(0.92,1)" font-size="20.5" text-anchor="middle">19</text>
<line x1="493.2" y1="1133" x2="493.2" y2="1142" stroke="#000" stroke-width="1.6"/>
<text transform="translate(493.2,1164.0) scale(0.92,1)" font-size="20.5" text-anchor="middle">26</text>
<line x1="617.3" y1="1133" x2="617.3" y2="1142" stroke="#000" stroke-width="1.6"/>
<text transform="translate(617.3,1164.0) scale(0.92,1)" font-size="20.5" text-anchor="middle">33</text>
<line x1="182.9" y1="1133" x2="182.9" y2="1137.5" stroke="#000" stroke-width="1.6"/>
<line x1="307.0" y1="1133" x2="307.0" y2="1137.5" stroke="#000" stroke-width="1.6"/>
<line x1="431.1" y1="1133" x2="431.1" y2="1137.5" stroke="#000" stroke-width="1.6"/>
<line x1="555.2" y1="1133" x2="555.2" y2="1137.5" stroke="#000" stroke-width="1.6"/>
<text x="396.9" y="1197.7" font-size="24.5" text-anchor="middle" fill="#000" >days after sowing (d)</text>
<text transform="translate(31,882.4) rotate(-90)" font-size="24.5" text-anchor="middle">Thick stem base(mm)</text>
<text x="511.0" y="701.0" font-size="24.5" text-anchor="start" fill="#000" >CY6709</text>
<path d="M120.8,1084.4 L123.9,1083.8 L127.0,1083.3 L130.1,1082.8 L133.2,1082.3 L136.3,1081.8 L139.4,1081.3 L142.5,1080.8 L145.6,1080.2 L148.7,1079.7 L151.8,1079.2 L154.9,1078.8 L158.0,1078.3 L161.1,1077.8 L164.2,1077.3 L167.3,1076.8 L170.4,1076.4 L173.6,1075.9 L176.7,1075.5 L179.8,1075.0 L182.9,1074.6 L186.0,1074.1 L189.1,1073.7 L192.2,1073.3 L195.3,1072.9 L198.4,1072.5 L201.5,1072.2 L204.6,1071.8 L207.7,1071.4 L210.8,1071.1 L213.9,1070.8 L217.0,1070.4 L220.1,1070.1 L223.2,1069.9 L226.3,1069.6 L229.4,1069.3 L232.5,1069.1 L235.6,1068.8 L238.7,1068.6 L241.8,1068.4 L244.9,1068.3 L248.0,1068.1 L251.1,1067.9 L254.2,1067.8 L257.3,1067.7 L260.4,1067.6 L263.5,1067.5 L266.6,1067.4 L269.8,1067.3 L272.9,1067.2 L276.0,1067.2 L279.1,1067.1 L282.2,1067.0 L285.3,1066.9 L288.4,1066.9 L291.5,1066.8 L294.6,1066.7 L297.7,1066.6 L300.8,1066.5 L303.9,1066.4 L307.0,1066.3 L310.1,1066.1 L313.2,1066.0 L316.3,1065.8 L319.4,1065.6 L322.5,1065.4 L325.6,1065.2 L328.7,1065.0 L331.8,1064.7 L334.9,1064.4 L338.0,1064.1 L341.1,1063.7 L344.2,1063.3 L347.3,1062.9 L350.4,1062.5 L353.5,1062.0 L356.6,1061.5 L359.7,1060.9 L362.8,1060.4 L365.9,1059.7 L369.0,1059.1 L372.2,1058.3 L375.3,1057.6 L378.4,1056.8 L381.5,1055.9 L384.6,1055.0 L387.7,1054.0 L390.8,1053.0 L393.9,1051.9 L397.0,1050.7 L400.1,1049.5 L403.2,1048.2 L406.3,1046.9 L409.4,1045.4 L412.5,1043.9 L415.6,1042.3 L418.7,1040.7 L421.8,1038.9 L424.9,1037.1 L428.0,1035.1 L431.1,1033.1 L434.2,1031.0 L437.3,1028.8 L440.4,1026.5 L443.5,1024.0 L446.6,1021.5 L449.7,1018.9 L452.8,1016.1 L455.9,1013.3 L459.0,1010.3 L462.1,1007.2 L465.2,1004.0 L468.3,1000.7 L471.5,997.3 L474.6,993.7 L477.7,990.0 L480.8,986.1 L483.9,982.1 L487.0,978.0 L490.1,973.8 L493.2,969.4 L496.4,964.7 L499.5,959.9 L502.7,955.0 L505.9,949.9 L509.1,944.6 L512.3,939.3 L515.5,933.8 L518.6,928.1 L521.8,922.4 L525.0,916.5 L528.2,910.6 L531.4,904.5 L534.5,898.3 L537.7,892.0 L540.9,885.6 L544.1,879.1 L547.3,872.5 L550.5,865.9 L553.6,859.1 L556.8,852.3 L560.0,845.4 L563.2,838.4 L566.4,831.4 L569.6,824.3 L572.7,817.1 L575.9,809.9 L579.1,802.7 L582.3,795.4 L585.5,788.0 L588.7,780.6 L591.8,773.2 L595.0,765.7 L598.2,758.3 L601.4,750.7 L604.6,743.2 L607.8,735.7 L610.9,728.1 L614.1,720.6 L617.3,713.0" fill="none" stroke="#000" stroke-width="1.9" stroke-dasharray="9,10.7"/>
<path d="M120.8,1085.5 L123.9,1085.2 L127.0,1084.8 L130.1,1084.5 L133.2,1084.2 L136.3,1083.8 L139.4,1083.5 L142.5,1083.2 L145.6,1082.8 L148.7,1082.5 L151.8,1082.2 L154.9,1081.9 L158.0,1081.6 L161.1,1081.2 L164.2,1080.9 L167.3,1080.6 L170.4,1080.3 L173.6,1080.0 L176.7,1079.7 L179.8,1079.5 L182.9,1079.2 L186.0,1078.9 L189.1,1078.6 L192.2,1078.4 L195.3,1078.1 L198.4,1077.9 L201.5,1077.6 L204.6,1077.4 L207.7,1077.2 L210.8,1076.9 L213.9,1076.7 L217.0,1076.5 L220.1,1076.3 L223.2,1076.2 L226.3,1076.0 L229.4,1075.8 L232.5,1075.7 L235.6,1075.5 L238.7,1075.4 L241.8,1075.3 L244.9,1075.2 L248.0,1075.1 L251.1,1075.0 L254.2,1074.9 L257.3,1074.8 L260.4,1074.7 L263.5,1074.7 L266.6,1074.6 L269.8,1074.6 L272.9,1074.5 L276.0,1074.4 L279.1,1074.4 L282.2,1074.3 L285.3,1074.2 L288.4,1074.1 L291.5,1074.1 L294.6,1074.0 L297.7,1073.8 L300.8,1073.7 L303.9,1073.6 L307.0,1073.4 L310.1,1073.2 L313.2,1073.1 L316.3,1072.8 L319.4,1072.6 L322.5,1072.4 L325.6,1072.1 L328.7,1071.8 L331.8,1071.4 L334.9,1071.1 L338.0,1070.7 L341.1,1070.3 L344.2,1069.8 L347.3,1069.3 L350.4,1068.8 L353.5,1068.2 L356.6,1067.6 L359.7,1067.0 L362.8,1066.3 L365.9,1065.6 L369.0,1064.8 L372.2,1064.0 L375.3,1063.1 L378.4,1062.2 L381.5,1061.2 L384.6,1060.2 L387.7,1059.1 L390.8,1058.0 L393.9,1056.8 L397.0,1055.5 L400.1,1054.2 L403.2,1052.8 L406.3,1051.3 L409.4,1049.8 L412.5,1048.1 L415.6,1046.4 L418.7,1044.6 L421.8,1042.8 L424.9,1040.8 L428.0,1038.8 L431.1,1036.7 L434.2,1034.4 L437.3,1032.1 L440.4,1029.7 L443.5,1027.2 L446.6,1024.6 L449.7,1021.9 L452.8,1019.1 L455.9,1016.1 L459.0,1013.1 L462.1,1009.9 L465.2,1006.7 L468.3,1003.3 L471.5,999.8 L474.6,996.1 L477.7,992.4 L480.8,988.5 L483.9,984.5 L487.0,980.4 L490.1,976.1 L493.2,971.7 L496.4,967.0 L499.5,962.2 L502.7,957.3 L505.9,952.2 L509.1,947.0 L512.3,941.6 L515.5,936.2 L518.6,930.6 L521.8,924.9 L525.0,919.1 L528.2,913.2 L531.4,907.1 L534.5,901.0 L537.7,894.8 L540.9,888.5 L544.1,882.1 L547.3,875.6 L550.5,869.0 L553.6,862.4 L556.8,855.7 L560.0,848.9 L563.2,842.0 L566.4,835.1 L569.6,828.1 L572.7,821.1 L575.9,814.0 L579.1,806.8 L582.3,799.7 L585.5,792.4 L588.7,785.2 L591.8,777.9 L595.0,770.5 L598.2,763.2 L601.4,755.8 L604.6,748.4 L607.8,741.0 L610.9,733.6 L614.1,726.2 L617.3,718.7" fill="none" stroke="#000" stroke-width="1.9"/>
<path d="M120.8,1086.7 L123.9,1086.5 L127.0,1086.3 L130.1,1086.1 L133.2,1085.9 L136.3,1085.7 L139.4,1085.5 L142.5,1085.3 L145.6,1085.1 L148.7,1084.9 L151.8,1084.7 L154.9,1084.5 L158.0,1084.4 L161.1,1084.2 L164.2,1084.0 L167.3,1083.8 L170.4,1083.7 L173.6,1083.5 L176.7,1083.3 L179.8,1083.2 L182.9,1083.0 L186.0,1082.9 L189.1,1082.7 L192.2,1082.6 L195.3,1082.4 L198.4,1082.3 L201.5,1082.1 L204.6,1082.0 L207.7,1081.9 L210.8,1081.8 L213.9,1081.7 L217.0,1081.6 L220.1,1081.5 L223.2,1081.4 L226.3,1081.3 L229.4,1081.2 L232.5,1081.1 L235.6,1081.1 L238.7,1081.0 L241.8,1080.9 L244.9,1080.9 L248.0,1080.9 L251.1,1080.8 L254.2,1080.8 L257.3,1080.8 L260.4,1080.8 L263.5,1080.7 L266.6,1080.7 L269.8,1080.7 L272.9,1080.7 L276.0,1080.6 L279.1,1080.6 L282.2,1080.5 L285.3,1080.5 L288.4,1080.4 L291.5,1080.3 L294.6,1080.2 L297.7,1080.1 L300.8,1080.0 L303.9,1079.8 L307.0,1079.6 L310.1,1079.4 L313.2,1079.2 L316.3,1079.0 L319.4,1078.7 L322.5,1078.4 L325.6,1078.0 L328.7,1077.7 L331.8,1077.3 L334.9,1076.8 L338.0,1076.4 L341.1,1075.9 L344.2,1075.3 L347.3,1074.7 L350.4,1074.1 L353.5,1073.5 L356.6,1072.7 L359.7,1072.0 L362.8,1071.2 L365.9,1070.3 L369.0,1069.4 L372.2,1068.4 L375.3,1067.4 L378.4,1066.4 L381.5,1065.2 L384.6,1064.0 L387.7,1062.8 L390.8,1061.5 L393.9,1060.1 L397.0,1058.7 L400.1,1057.2 L403.2,1055.6 L406.3,1054.0 L409.4,1052.3 L412.5,1050.5 L415.6,1048.6 L418.7,1046.7 L421.8,1044.7 L424.9,1042.6 L428.0,1040.5 L431.1,1038.2 L434.2,1035.9 L437.3,1033.5 L440.4,1031.0 L443.5,1028.4 L446.6,1025.7 L449.7,1023.0 L452.8,1020.1 L455.9,1017.2 L459.0,1014.1 L462.1,1011.0 L465.2,1007.8 L468.3,1004.4 L471.5,1001.0 L474.6,997.4 L477.7,993.8 L480.8,990.1 L483.9,986.2 L487.0,982.2 L490.1,978.2 L493.2,974.0 L496.4,969.6 L499.5,965.0 L502.7,960.4 L505.9,955.7 L509.1,950.8 L512.3,945.8 L515.5,940.8 L518.6,935.6 L521.8,930.4 L525.0,925.0 L528.2,919.6 L531.4,914.1 L534.5,908.5 L537.7,902.8 L540.9,897.1 L544.1,891.2 L547.3,885.3 L550.5,879.4 L553.6,873.3 L556.8,867.3 L560.0,861.1 L563.2,854.9 L566.4,848.6 L569.6,842.3 L572.7,836.0 L575.9,829.6 L579.1,823.2 L582.3,816.7 L585.5,810.2 L588.7,803.7 L591.8,797.1 L595.0,790.5 L598.2,783.9 L601.4,777.3 L604.6,770.7 L607.8,764.0 L610.9,757.4 L614.1,750.7 L617.3,744.0" fill="none" stroke="#000" stroke-width="1.9"/>
<path d="M116.8,1080.9 H124.8 M120.8,1080.9 V1087.8 M116.8,1087.8 H124.8" stroke="#333" stroke-width="1.1" fill="none"/>
<path d="M240.9,1066.0 H248.9 M244.9,1066.0 V1070.6 M240.9,1070.6 H248.9" stroke="#333" stroke-width="1.1" fill="none"/>
<path d="M365.0,1055.6 H373.0 M369.0,1055.6 V1062.5 M365.0,1062.5 H373.0" stroke="#333" stroke-width="1.1" fill="none"/>
<path d="M489.2,957.9 H497.2 M493.2,957.9 V980.9 M489.2,980.9 H497.2" stroke="#333" stroke-width="1.1" fill="none"/>
<path d="M613.3,704.9 H621.3 M617.3,704.9 V721.0 M613.3,721.0 H621.3" stroke="#333" stroke-width="1.1" fill="none"/>
<path d="M116.8,1083.2 H124.8 M120.8,1083.2 V1087.8 M116.8,1087.8 H124.8" stroke="#333" stroke-width="1.1" fill="none"/>
<path d="M240.9,1072.9 H248.9 M244.9,1072.9 V1077.5 M240.9,1077.5 H248.9" stroke="#333" stroke-width="1.1" fill="none"/>
<path d="M365.0,1062.5 H373.0 M369.0,1062.5 V1067.1 M365.0,1067.1 H373.0" stroke="#333" stroke-width="1.1" fill="none"/>
<path d="M489.2,965.9 H497.2 M493.2,965.9 V977.4 M489.2,977.4 H497.2" stroke="#333" stroke-width="1.1" fill="none"/>
<path d="M613.3,707.2 H621.3 M617.3,707.2 V730.2 M613.3,730.2 H621.3" stroke="#333" stroke-width="1.1" fill="none"/>
<path d="M116.8,1084.4 H124.8 M120.8,1084.4 V1089.0 M116.8,1089.0 H124.8" stroke="#333" stroke-width="1.1" fill="none"/>
<path d="M240.9,1078.6 H248.9 M244.9,1078.6 V1083.2 M240.9,1083.2 H248.9" stroke="#333" stroke-width="1.1" fill="none"/>
<path d="M365.0,1067.1 H373.0 M369.0,1067.1 V1071.7 M365.0,1071.7 H373.0" stroke="#333" stroke-width="1.1" fill="none"/>
<path d="M489.2,962.5 H497.2 M493.2,962.5 V985.5 M489.2,985.5 H497.2" stroke="#333" stroke-width="1.1" fill="none"/>
<path d="M613.3,732.5 H621.3 M617.3,732.5 V755.5 M613.3,755.5 H621.3" stroke="#333" stroke-width="1.1" fill="none"/>
<rect x="116.3" y="1079.9" width="9" height="9" fill="none" stroke="#444" stroke-width="1.1"/>
<rect x="240.4" y="1063.8" width="9" height="9" fill="none" stroke="#444" stroke-width="1.1"/>
<rect x="364.5" y="1054.6" width="9" height="9" fill="none" stroke="#444" stroke-width="1.1"/>
<rect x="488.7" y="964.9" width="9" height="9" fill="none" stroke="#444" stroke-width="1.1"/>
<rect x="612.8" y="708.5" width="9" height="9" fill="none" stroke="#444" stroke-width="1.1"/>
<circle cx="120.8" cy="1085.5" r="5.8" fill="#000"/>
<circle cx="244.9" cy="1075.2" r="5.8" fill="#000"/>
<circle cx="369.0" cy="1064.8" r="5.8" fill="#000"/>
<circle cx="493.2" cy="971.7" r="5.8" fill="#000"/>
<circle cx="617.3" cy="718.7" r="5.8" fill="#000"/>
<path d="M120.8,1079.7 L127.6,1090.7 L114.0,1090.7 Z" fill="#000"/>
<path d="M244.9,1073.9 L251.7,1084.9 L238.1,1084.9 Z" fill="#000"/>
<path d="M369.0,1062.4 L375.8,1073.4 L362.2,1073.4 Z" fill="#000"/>
<path d="M493.2,967.0 L500.0,978.0 L486.4,978.0 Z" fill="#000"/>
<path d="M617.3,737.0 L624.1,748.0 L610.5,748.0 Z" fill="#000"/>
<text x="98.5" y="1079.0" font-size="29" text-anchor="start" fill="#000" >a</text>
<text x="98.5" y="1095.0" font-size="29" text-anchor="start" fill="#000" >a</text>
<text x="98.5" y="1111.0" font-size="29" text-anchor="start" fill="#000" >a</text>
<text x="220.0" y="1065.0" font-size="29" text-anchor="start" fill="#000" >a</text>
<text x="219.0" y="1097.5" font-size="29" text-anchor="start" fill="#000" >b</text>
<text x="219.0" y="1118.5" font-size="29" text-anchor="start" fill="#000" >b</text>
<text x="346.0" y="1057.5" font-size="29" text-anchor="start" fill="#000" >a</text>
<text x="346.0" y="1082.5" font-size="29" text-anchor="start" fill="#000" >a</text>
<text x="346.0" y="1101.5" font-size="29" text-anchor="start" fill="#000" >a</text>
<text x="472.5" y="945.0" font-size="29" text-anchor="start" fill="#000" >a</text>
<text x="472.5" y="966.5" font-size="29" text-anchor="start" fill="#000" >a</text>
<text x="472.5" y="983.5" font-size="29" text-anchor="start" fill="#000" >a</text>
<text x="629.0" y="715.5" font-size="29" text-anchor="start" fill="#000" >a</text>
<text x="629.0" y="736.0" font-size="29" text-anchor="start" fill="#000" >a</text>
<text x="629.0" y="751.5" font-size="29" text-anchor="start" fill="#000" >a</text>
<path d="M131,687.0 h9 M150.7,687.0 h9 M170.4,687.0 h9" stroke="#000" stroke-width="1.8"/>
<rect x="154.8" y="682.5" width="9" height="9" fill="none" stroke="#444" stroke-width="1.1"/>
<text x="194.0" y="695.6" font-size="24.5" text-anchor="start" fill="#000" >M0</text>
<line x1="131" y1="717.5" x2="188" y2="717.5" stroke="#000" stroke-width="1.8"/>
<circle cx="159.3" cy="717.5" r="5.8" fill="#000"/>
<text x="194.0" y="726.1" font-size="24.5" text-anchor="start" fill="#000" >M1</text>
<line x1="131" y1="748.0" x2="188" y2="748.0" stroke="#000" stroke-width="1.8"/>
<path d="M159.3,741.0 L166.1,752.0 L152.5,752.0 Z" fill="#000"/>
<text x="194.0" y="756.6" font-size="24.5" text-anchor="start" fill="#000" >M2</text>
<path d="M800,632.5 V1133 H1421" fill="none" stroke="#000" stroke-width="2"/>
<text transform="translate(789.5,1139.1) scale(0.92,1)" font-size="20.5" text-anchor="end">0.8</text>
<line x1="800" y1="1082.5" x2="809" y2="1082.5" stroke="#000" stroke-width="1.6"/>
<text transform="translate(789.5,1089.1) scale(0.92,1)" font-size="20.5" text-anchor="end">1.0</text>
<line x1="800" y1="1032.5" x2="809" y2="1032.5" stroke="#000" stroke-width="1.6"/>
<text transform="translate(789.5,1039.1) scale(0.92,1)" font-size="20.5" text-anchor="end">1.2</text>
<line x1="800" y1="982.5" x2="809" y2="982.5" stroke="#000" stroke-width="1.6"/>
<text transform="translate(789.5,989.1) scale(0.92,1)" font-size="20.5" text-anchor="end">1.4</text>
<line x1="800" y1="932.5" x2="809" y2="932.5" stroke="#000" stroke-width="1.6"/>
<text transform="translate(789.5,939.1) scale(0.92,1)" font-size="20.5" text-anchor="end">1.6</text>
<line x1="800" y1="882.5" x2="809" y2="882.5" stroke="#000" stroke-width="1.6"/>
<text transform="translate(789.5,889.1) scale(0.92,1)" font-size="20.5" text-anchor="end">1.8</text>
<line x1="800" y1="832.5" x2="809" y2="832.5" stroke="#000" stroke-width="1.6"/>
<text transform="translate(789.5,839.1) scale(0.92,1)" font-size="20.5" text-anchor="end">2.0</text>
<line x1="800" y1="782.5" x2="809" y2="782.5" stroke="#000" stroke-width="1.6"/>
<text transform="translate(789.5,789.1) scale(0.92,1)" font-size="20.5" text-anchor="end">2.2</text>
<line x1="800" y1="732.5" x2="809" y2="732.5" stroke="#000" stroke-width="1.6"/>
<text transform="translate(789.5,739.1) scale(0.92,1)" font-size="20.5" text-anchor="end">2.4</text>
<line x1="800" y1="682.5" x2="809" y2="682.5" stroke="#000" stroke-width="1.6"/>
<text transform="translate(789.5,689.1) scale(0.92,1)" font-size="20.5" text-anchor="end">2.6</text>
<line x1="800" y1="632.5" x2="809" y2="632.5" stroke="#000" stroke-width="1.6"/>
<text transform="translate(789.5,639.1) scale(0.92,1)" font-size="20.5" text-anchor="end">2.8</text>
<line x1="844.0" y1="1133" x2="844.0" y2="1142" stroke="#000" stroke-width="1.6"/>
<text transform="translate(844.0,1164.0) scale(0.92,1)" font-size="20.5" text-anchor="middle">5</text>
<line x1="968.1" y1="1133" x2="968.1" y2="1142" stroke="#000" stroke-width="1.6"/>
<text transform="translate(968.1,1164.0) scale(0.92,1)" font-size="20.5" text-anchor="middle">12</text>
<line x1="1092.2" y1="1133" x2="1092.2" y2="1142" stroke="#000" stroke-width="1.6"/>
<text transform="translate(1092.2,1164.0) scale(0.92,1)" font-size="20.5" text-anchor="middle">19</text>
<line x1="1216.4" y1="1133" x2="1216.4" y2="1142" stroke="#000" stroke-width="1.6"/>
<text transform="translate(1216.4,1164.0) scale(0.92,1)" font-size="20.5" text-anchor="middle">26</text>
<line x1="1340.5" y1="1133" x2="1340.5" y2="1142" stroke="#000" stroke-width="1.6"/>
<text transform="translate(1340.5,1164.0) scale(0.92,1)" font-size="20.5" text-anchor="middle">33</text>
<line x1="906.1" y1="1133" x2="906.1" y2="1137.5" stroke="#000" stroke-width="1.6"/>
<line x1="1030.2" y1="1133" x2="1030.2" y2="1137.5" stroke="#000" stroke-width="1.6"/>
<line x1="1154.3" y1="1133" x2="1154.3" y2="1137.5" stroke="#000" stroke-width="1.6"/>
<line x1="1278.4" y1="1133" x2="1278.4" y2="1137.5" stroke="#000" stroke-width="1.6"/>
<text x="1110.5" y="1195.0" font-size="24.5" text-anchor="middle" fill="#000" >days after sowing (d)</text>
<text transform="translate(744.3,884.6) rotate(-90)" font-size="24.5" text-anchor="middle">Thick stem base(mm)</text>
<text x="1244.0" y="703.5" font-size="24.5" text-anchor="start" fill="#000" >GCII</text>
<path d="M844.0,1045.0 L847.1,1044.9 L850.2,1044.8 L853.3,1044.7 L856.4,1044.6 L859.5,1044.5 L862.6,1044.4 L865.7,1044.3 L868.8,1044.1 L871.9,1044.0 L875.0,1043.8 L878.1,1043.6 L881.2,1043.4 L884.3,1043.2 L887.4,1043.0 L890.5,1042.7 L893.6,1042.4 L896.8,1042.1 L899.9,1041.7 L903.0,1041.4 L906.1,1041.0 L909.2,1040.5 L912.3,1040.0 L915.4,1039.5 L918.5,1039.0 L921.6,1038.4 L924.7,1037.8 L927.8,1037.1 L930.9,1036.4 L934.0,1035.6 L937.1,1034.8 L940.2,1034.0 L943.3,1033.1 L946.4,1032.1 L949.5,1031.1 L952.6,1030.0 L955.7,1028.9 L958.8,1027.7 L961.9,1026.4 L965.0,1025.1 L968.1,1023.8 L971.2,1022.3 L974.3,1020.8 L977.4,1019.2 L980.5,1017.6 L983.6,1016.0 L986.7,1014.3 L989.8,1012.5 L993.0,1010.7 L996.1,1008.9 L999.2,1007.1 L1002.3,1005.2 L1005.4,1003.3 L1008.5,1001.4 L1011.6,999.5 L1014.7,997.6 L1017.8,995.7 L1020.9,993.8 L1024.0,991.9 L1027.1,990.0 L1030.2,988.1 L1033.3,986.2 L1036.4,984.4 L1039.5,982.6 L1042.6,980.8 L1045.7,979.0 L1048.8,977.3 L1051.9,975.6 L1055.0,974.0 L1058.1,972.5 L1061.2,971.0 L1064.3,969.5 L1067.4,968.1 L1070.5,966.8 L1073.6,965.6 L1076.7,964.5 L1079.8,963.4 L1082.9,962.4 L1086.0,961.5 L1089.1,960.7 L1092.2,960.0 L1095.4,959.4 L1098.5,958.9 L1101.6,958.5 L1104.7,958.1 L1107.8,957.9 L1110.9,957.7 L1114.0,957.5 L1117.1,957.4 L1120.2,957.4 L1123.3,957.3 L1126.4,957.3 L1129.5,957.3 L1132.6,957.4 L1135.7,957.4 L1138.8,957.4 L1141.9,957.3 L1145.0,957.3 L1148.1,957.2 L1151.2,957.1 L1154.3,956.9 L1157.4,956.7 L1160.5,956.4 L1163.6,956.0 L1166.7,955.5 L1169.8,955.0 L1172.9,954.3 L1176.0,953.5 L1179.1,952.7 L1182.2,951.6 L1185.3,950.5 L1188.4,949.2 L1191.5,947.8 L1194.7,946.2 L1197.8,944.5 L1200.9,942.5 L1204.0,940.4 L1207.1,938.1 L1210.2,935.6 L1213.3,932.9 L1216.4,930.0 L1219.6,926.8 L1222.7,923.3 L1225.9,919.7 L1229.1,915.8 L1232.3,911.7 L1235.5,907.4 L1238.7,902.9 L1241.8,898.2 L1245.0,893.3 L1248.2,888.2 L1251.4,883.0 L1254.6,877.6 L1257.8,872.0 L1260.9,866.3 L1264.1,860.4 L1267.3,854.4 L1270.5,848.2 L1273.7,841.9 L1276.8,835.5 L1280.0,829.0 L1283.2,822.4 L1286.4,815.6 L1289.6,808.7 L1292.8,801.8 L1295.9,794.7 L1299.1,787.6 L1302.3,780.4 L1305.5,773.1 L1308.7,765.8 L1311.9,758.4 L1315.0,750.9 L1318.2,743.4 L1321.4,735.8 L1324.6,728.3 L1327.8,720.6 L1331.0,713.0 L1334.1,705.3 L1337.3,697.7 L1340.5,690.0" fill="none" stroke="#000" stroke-width="1.9" stroke-dasharray="9,10.7"/>
<path d="M844.0,1071.2 L847.1,1070.9 L850.2,1070.5 L853.3,1070.1 L856.4,1069.6 L859.5,1069.2 L862.6,1068.8 L865.7,1068.4 L868.8,1068.0 L871.9,1067.5 L875.0,1067.1 L878.1,1066.6 L881.2,1066.1 L884.3,1065.6 L887.4,1065.1 L890.5,1064.6 L893.6,1064.1 L896.8,1063.5 L899.9,1062.9 L903.0,1062.3 L906.1,1061.7 L909.2,1061.0 L912.3,1060.4 L915.4,1059.7 L918.5,1058.9 L921.6,1058.2 L924.7,1057.4 L927.8,1056.6 L930.9,1055.7 L934.0,1054.8 L937.1,1053.9 L940.2,1052.9 L943.3,1051.9 L946.4,1050.9 L949.5,1049.8 L952.6,1048.7 L955.7,1047.6 L958.8,1046.4 L961.9,1045.1 L965.0,1043.8 L968.1,1042.5 L971.2,1041.1 L974.3,1039.7 L977.4,1038.2 L980.5,1036.7 L983.6,1035.2 L986.7,1033.6 L989.8,1032.0 L993.0,1030.3 L996.1,1028.7 L999.2,1027.0 L1002.3,1025.3 L1005.4,1023.6 L1008.5,1021.9 L1011.6,1020.2 L1014.7,1018.5 L1017.8,1016.8 L1020.9,1015.0 L1024.0,1013.3 L1027.1,1011.6 L1030.2,1009.9 L1033.3,1008.3 L1036.4,1006.6 L1039.5,1005.0 L1042.6,1003.4 L1045.7,1001.8 L1048.8,1000.2 L1051.9,998.7 L1055.0,997.3 L1058.1,995.8 L1061.2,994.4 L1064.3,993.1 L1067.4,991.8 L1070.5,990.6 L1073.6,989.4 L1076.7,988.3 L1079.8,987.2 L1082.9,986.3 L1086.0,985.4 L1089.1,984.5 L1092.2,983.8 L1095.4,983.1 L1098.5,982.5 L1101.6,981.9 L1104.7,981.4 L1107.8,981.0 L1110.9,980.6 L1114.0,980.2 L1117.1,979.9 L1120.2,979.6 L1123.3,979.4 L1126.4,979.1 L1129.5,978.8 L1132.6,978.5 L1135.7,978.3 L1138.8,978.0 L1141.9,977.6 L1145.0,977.3 L1148.1,976.9 L1151.2,976.4 L1154.3,975.9 L1157.4,975.4 L1160.5,974.7 L1163.6,974.0 L1166.7,973.2 L1169.8,972.4 L1172.9,971.4 L1176.0,970.3 L1179.1,969.1 L1182.2,967.8 L1185.3,966.4 L1188.4,964.8 L1191.5,963.1 L1194.7,961.3 L1197.8,959.3 L1200.9,957.2 L1204.0,954.8 L1207.1,952.3 L1210.2,949.7 L1213.3,946.8 L1216.4,943.8 L1219.6,940.4 L1222.7,936.9 L1225.9,933.1 L1229.1,929.2 L1232.3,925.0 L1235.5,920.7 L1238.7,916.2 L1241.8,911.5 L1245.0,906.7 L1248.2,901.7 L1251.4,896.5 L1254.6,891.2 L1257.8,885.7 L1260.9,880.1 L1264.1,874.4 L1267.3,868.5 L1270.5,862.5 L1273.7,856.4 L1276.8,850.2 L1280.0,843.9 L1283.2,837.4 L1286.4,830.9 L1289.6,824.2 L1292.8,817.5 L1295.9,810.7 L1299.1,803.8 L1302.3,796.9 L1305.5,789.9 L1308.7,782.8 L1311.9,775.7 L1315.0,768.5 L1318.2,761.3 L1321.4,754.0 L1324.6,746.7 L1327.8,739.4 L1331.0,732.1 L1334.1,724.7 L1337.3,717.4 L1340.5,710.0" fill="none" stroke="#000" stroke-width="1.9"/>
<path d="M844.0,1071.2 L847.1,1070.9 L850.2,1070.6 L853.3,1070.3 L856.4,1069.9 L859.5,1069.6 L862.6,1069.2 L865.7,1068.9 L868.8,1068.6 L871.9,1068.2 L875.0,1067.9 L878.1,1067.5 L881.2,1067.2 L884.3,1066.8 L887.4,1066.4 L890.5,1066.0 L893.6,1065.7 L896.8,1065.3 L899.9,1064.9 L903.0,1064.5 L906.1,1064.1 L909.2,1063.7 L912.3,1063.2 L915.4,1062.8 L918.5,1062.4 L921.6,1061.9 L924.7,1061.5 L927.8,1061.0 L930.9,1060.5 L934.0,1060.0 L937.1,1059.5 L940.2,1059.0 L943.3,1058.5 L946.4,1057.9 L949.5,1057.4 L952.6,1056.8 L955.7,1056.2 L958.8,1055.6 L961.9,1055.0 L965.0,1054.4 L968.1,1053.8 L971.2,1053.1 L974.3,1052.4 L977.4,1051.7 L980.5,1051.0 L983.6,1050.3 L986.7,1049.6 L989.8,1048.8 L993.0,1048.1 L996.1,1047.3 L999.2,1046.6 L1002.3,1045.8 L1005.4,1045.0 L1008.5,1044.1 L1011.6,1043.3 L1014.7,1042.5 L1017.8,1041.7 L1020.9,1040.8 L1024.0,1040.0 L1027.1,1039.1 L1030.2,1038.2 L1033.3,1037.3 L1036.4,1036.5 L1039.5,1035.6 L1042.6,1034.7 L1045.7,1033.8 L1048.8,1032.9 L1051.9,1032.0 L1055.0,1031.1 L1058.1,1030.1 L1061.2,1029.2 L1064.3,1028.3 L1067.4,1027.4 L1070.5,1026.5 L1073.6,1025.5 L1076.7,1024.6 L1079.8,1023.7 L1082.9,1022.8 L1086.0,1021.8 L1089.1,1020.9 L1092.2,1020.0 L1095.4,1019.1 L1098.5,1018.2 L1101.6,1017.2 L1104.7,1016.3 L1107.8,1015.4 L1110.9,1014.4 L1114.0,1013.4 L1117.1,1012.5 L1120.2,1011.4 L1123.3,1010.4 L1126.4,1009.3 L1129.5,1008.2 L1132.6,1007.1 L1135.7,1005.9 L1138.8,1004.7 L1141.9,1003.4 L1145.0,1002.1 L1148.1,1000.8 L1151.2,999.3 L1154.3,997.9 L1157.4,996.3 L1160.5,994.7 L1163.6,993.1 L1166.7,991.3 L1169.8,989.5 L1172.9,987.6 L1176.0,985.6 L1179.1,983.6 L1182.2,981.4 L1185.3,979.2 L1188.4,976.9 L1191.5,974.5 L1194.7,971.9 L1197.8,969.3 L1200.9,966.6 L1204.0,963.8 L1207.1,960.8 L1210.2,957.7 L1213.3,954.6 L1216.4,951.2 L1219.6,947.7 L1222.7,944.1 L1225.9,940.3 L1229.1,936.4 L1232.3,932.4 L1235.5,928.3 L1238.7,924.1 L1241.8,919.7 L1245.0,915.3 L1248.2,910.7 L1251.4,906.1 L1254.6,901.3 L1257.8,896.5 L1260.9,891.6 L1264.1,886.6 L1267.3,881.5 L1270.5,876.3 L1273.7,871.1 L1276.8,865.8 L1280.0,860.4 L1283.2,855.0 L1286.4,849.5 L1289.6,843.9 L1292.8,838.3 L1295.9,832.7 L1299.1,826.9 L1302.3,821.2 L1305.5,815.4 L1308.7,809.6 L1311.9,803.7 L1315.0,797.8 L1318.2,791.9 L1321.4,786.0 L1324.6,780.0 L1327.8,774.0 L1331.0,768.0 L1334.1,762.0 L1337.3,756.0 L1340.5,750.0" fill="none" stroke="#000" stroke-width="1.9"/>
<path d="M840.0,1040.0 H848.0 M844.0,1040.0 V1050.0 M840.0,1050.0 H848.0" stroke="#333" stroke-width="1.1" fill="none"/>
<path d="M964.1,1016.2 H972.1 M968.1,1016.2 V1031.2 M964.1,1031.2 H972.1" stroke="#333" stroke-width="1.1" fill="none"/>
<path d="M1088.2,957.5 H1096.2 M1092.2,957.5 V962.5 M1088.2,962.5 H1096.2" stroke="#333" stroke-width="1.1" fill="none"/>
<path d="M1212.4,925.0 H1220.4 M1216.4,925.0 V935.0 M1212.4,935.0 H1220.4" stroke="#333" stroke-width="1.1" fill="none"/>
<path d="M1336.5,665.0 H1344.5 M1340.5,665.0 V715.0 M1336.5,715.0 H1344.5" stroke="#333" stroke-width="1.1" fill="none"/>
<path d="M840.0,1063.8 H848.0 M844.0,1063.8 V1078.8 M840.0,1078.8 H848.0" stroke="#333" stroke-width="1.1" fill="none"/>
<path d="M964.1,1035.0 H972.1 M968.1,1035.0 V1050.0 M964.1,1050.0 H972.1" stroke="#333" stroke-width="1.1" fill="none"/>
<path d="M1088.2,968.8 H1096.2 M1092.2,968.8 V998.8 M1088.2,998.8 H1096.2" stroke="#333" stroke-width="1.1" fill="none"/>
<path d="M1212.4,936.2 H1220.4 M1216.4,936.2 V951.2 M1212.4,951.2 H1220.4" stroke="#333" stroke-width="1.1" fill="none"/>
<path d="M1336.5,697.5 H1344.5 M1340.5,697.5 V722.5 M1336.5,722.5 H1344.5" stroke="#333" stroke-width="1.1" fill="none"/>
<path d="M840.0,1058.8 H848.0 M844.0,1058.8 V1083.8 M840.0,1083.8 H848.0" stroke="#333" stroke-width="1.1" fill="none"/>
<path d="M964.1,1046.2 H972.1 M968.1,1046.2 V1061.2 M964.1,1061.2 H972.1" stroke="#333" stroke-width="1.1" fill="none"/>
<path d="M1088.2,1010.0 H1096.2 M1092.2,1010.0 V1030.0 M1088.2,1030.0 H1096.2" stroke="#333" stroke-width="1.1" fill="none"/>
<path d="M1212.4,938.8 H1220.4 M1216.4,938.8 V963.8 M1212.4,963.8 H1220.4" stroke="#333" stroke-width="1.1" fill="none"/>
<path d="M1336.5,732.5 H1344.5 M1340.5,732.5 V767.5 M1336.5,767.5 H1344.5" stroke="#333" stroke-width="1.1" fill="none"/>
<rect x="839.5" y="1040.5" width="9" height="9" fill="none" stroke="#444" stroke-width="1.1"/>
<rect x="963.6" y="1019.2" width="9" height="9" fill="none" stroke="#444" stroke-width="1.1"/>
<rect x="1087.8" y="955.5" width="9" height="9" fill="none" stroke="#444" stroke-width="1.1"/>
<rect x="1211.9" y="925.5" width="9" height="9" fill="none" stroke="#444" stroke-width="1.1"/>
<rect x="1336.0" y="685.5" width="9" height="9" fill="none" stroke="#444" stroke-width="1.1"/>
<circle cx="844.0" cy="1071.2" r="5.8" fill="#000"/>
<circle cx="968.1" cy="1042.5" r="5.8" fill="#000"/>
<circle cx="1092.2" cy="983.8" r="5.8" fill="#000"/>
<circle cx="1216.4" cy="943.8" r="5.8" fill="#000"/>
<circle cx="1340.5" cy="710.0" r="5.8" fill="#000"/>
<path d="M844.0,1064.2 L850.8,1075.2 L837.2,1075.2 Z" fill="#000"/>
<path d="M968.1,1046.8 L974.9,1057.8 L961.3,1057.8 Z" fill="#000"/>
<path d="M1092.2,1013.0 L1099.0,1024.0 L1085.5,1024.0 Z" fill="#000"/>
<path d="M1216.4,944.2 L1223.2,955.2 L1209.6,955.2 Z" fill="#000"/>
<path d="M1340.5,743.0 L1347.3,754.0 L1333.7,754.0 Z" fill="#000"/>
<text x="824.0" y="1040.0" font-size="29" text-anchor="start" fill="#000" >a</text>
<text x="824.0" y="1071.0" font-size="29" text-anchor="start" fill="#000" >a</text>
<text x="824.0" y="1092.5" font-size="29" text-anchor="start" fill="#000" >a</text>
<text x="950.0" y="1011.0" font-size="29" text-anchor="start" fill="#000" >a</text>
<text x="935.0" y="1043.5" font-size="29" text-anchor="start" fill="#000" >ab</text>
<text x="945.0" y="1077.5" font-size="29" text-anchor="start" fill="#000" >b</text>
<text x="1074.0" y="956.0" font-size="29" text-anchor="start" fill="#000" >a</text>
<text x="1071.5" y="992.5" font-size="29" text-anchor="start" fill="#000" >a</text>
<text x="1070.0" y="1035.0" font-size="29" text-anchor="start" fill="#000" >b</text>
<text x="1199.0" y="926.0" font-size="29" text-anchor="start" fill="#000" >a</text>
<text x="1196.5" y="954.0" font-size="29" text-anchor="start" fill="#000" >a</text>
<text x="1198.0" y="982.5" font-size="29" text-anchor="start" fill="#000" >a</text>
<text x="1348.0" y="689.5" font-size="29" text-anchor="start" fill="#000" >a</text>
<text x="1348.0" y="715.5" font-size="29" text-anchor="start" fill="#000" >a</text>
<text x="1348.0" y="757.0" font-size="29" text-anchor="start" fill="#000" >a</text>
<path d="M849,689.0 h9 M868.7,689.0 h9 M888.4,689.0 h9" stroke="#000" stroke-width="1.8"/>
<rect x="872.8" y="684.5" width="9" height="9" fill="none" stroke="#444" stroke-width="1.1"/>
<text x="912.0" y="697.6" font-size="24.5" text-anchor="start" fill="#000" >M0</text>
<line x1="849" y1="719.5" x2="906" y2="719.5" stroke="#000" stroke-width="1.8"/>
<circle cx="877.3" cy="719.5" r="5.8" fill="#000"/>
<text x="912.0" y="728.1" font-size="24.5" text-anchor="start" fill="#000" >M1</text>
<line x1="849" y1="750.0" x2="906" y2="750.0" stroke="#000" stroke-width="1.8"/>
<path d="M877.3,743.0 L884.1,754.0 L870.5,754.0 Z" fill="#000"/>
<text x="912.0" y="758.6" font-size="24.5" text-anchor="start" fill="#000" >M2</text>
<defs><linearGradient id="stemE" x1="0" y1="0" x2="1" y2="0"><stop offset="0" stop-color="#86a20c"/><stop offset="0.45" stop-color="#abc616"/><stop offset="1" stop-color="#8eaa0e"/></linearGradient><linearGradient id="stemF" x1="0" y1="0" x2="1" y2="0"><stop offset="0" stop-color="#6e8a1c"/><stop offset="0.45" stop-color="#9cba2c"/><stop offset="1" stop-color="#7c981e"/></linearGradient><linearGradient id="baseE" x1="0" y1="0" x2="0" y2="1"><stop offset="0" stop-color="#a8c424" stop-opacity="0"/><stop offset="0.55" stop-color="#c4b450" stop-opacity="0.7"/><stop offset="1" stop-color="#d8c890" stop-opacity="1"/></linearGradient><linearGradient id="baseF" x1="0" y1="0" x2="0" y2="1"><stop offset="0" stop-color="#7c5a5a" stop-opacity="0"/><stop offset="0.6" stop-color="#7c5a5a" stop-opacity="0.45"/><stop offset="1" stop-color="#8a6a5a" stop-opacity="0.75"/></linearGradient></defs>
<rect x="75.5" y="1242.5" width="624.5" height="243" fill="#1a1a19"/>
<rect x="799.5" y="1242.5" width="625.5" height="243" fill="#1a1a19"/>
<path d="M75.5,1242.5 H143.3 V1410 L140,1413.8 H75.5 Z" fill="#ecc41c"/>
<path d="M133.5,1242.5 H143.3 V1410 L140,1413 H133.5 Z" fill="#d9ae12"/>
<line x1="110.9" y1="1242.5" x2="110.9" y2="1411.4" stroke="#1a1408" stroke-width="1.4"/>
<line x1="112" y1="1246.5" x2="131" y2="1246.5" stroke="#1a1408" stroke-width="1.6"/>
<line x1="117.6" y1="1260.6" x2="131" y2="1260.6" stroke="#1a1408" stroke-width="1.6"/>
<line x1="112" y1="1274.6" x2="131" y2="1274.6" stroke="#1a1408" stroke-width="1.6"/>
<line x1="112" y1="1289.3" x2="131" y2="1289.3" stroke="#1a1408" stroke-width="1.6"/>
<line x1="112" y1="1303.9" x2="131" y2="1303.9" stroke="#1a1408" stroke-width="1.6"/>
<line x1="112" y1="1318.6" x2="131" y2="1318.6" stroke="#1a1408" stroke-width="1.6"/>
<line x1="112" y1="1333.2" x2="131" y2="1333.2" stroke="#1a1408" stroke-width="1.6"/>
<line x1="112" y1="1347.9" x2="131" y2="1347.9" stroke="#1a1408" stroke-width="1.6"/>
<line x1="112" y1="1362.5" x2="131" y2="1362.5" stroke="#1a1408" stroke-width="1.6"/>
<line x1="112" y1="1377.2" x2="131" y2="1377.2" stroke="#1a1408" stroke-width="1.6"/>
<line x1="112" y1="1392.5" x2="131" y2="1392.5" stroke="#1a1408" stroke-width="1.6"/>
<line x1="117.6" y1="1407.1" x2="131" y2="1407.1" stroke="#1a1408" stroke-width="1.6"/>
<text transform="translate(110,1246.5) rotate(-90) scale(1,1)" font-family="&quot;Liberation Serif&quot;, serif" font-weight="normal" font-size="15" text-anchor="middle" fill="#1a1408">6</text>
<text transform="translate(107.2,1276.5) rotate(-90) scale(0.62,1)" font-family="&quot;Liberation Serif&quot;, serif" font-weight="bold" font-size="46" text-anchor="middle" fill="#1a1408">5</text>
<text transform="translate(107.8,1304.5) rotate(-90) scale(1,1)" font-family="&quot;Liberation Serif&quot;, serif" font-weight="normal" font-size="16" text-anchor="middle" fill="#1a1408">4</text>
<text transform="translate(107.2,1332.7) rotate(-90) scale(1,1)" font-family="&quot;Liberation Serif&quot;, serif" font-weight="normal" font-size="16" text-anchor="middle" fill="#1a1408">3</text>
<text transform="translate(107.2,1363.2) rotate(-90) scale(1,1)" font-family="&quot;Liberation Serif&quot;, serif" font-weight="normal" font-size="16" text-anchor="middle" fill="#1a1408">2</text>
<text transform="translate(107.2,1393) rotate(-90) scale(1,1)" font-family="&quot;Liberation Serif&quot;, serif" font-weight="normal" font-size="16" text-anchor="middle" fill="#1a1408">1</text>
<path d="M807.8,1242.5 H870 V1406 L867,1408.3 H807.8 Z" fill="#eec814"/>
<path d="M864.5,1242.5 H870 V1406 L867,1408.3 H864.5 Z" fill="#e2b80e"/>
<line x1="843.8" y1="1242.5" x2="840.1" y2="1408" stroke="#1a1408" stroke-width="1.3"/>
<line x1="846" y1="1250.2" x2="857.8" y2="1250.2" stroke="#1a1408" stroke-width="1.4"/>
<line x1="843" y1="1262.4" x2="857.8" y2="1262.4" stroke="#1a1408" stroke-width="1.4"/>
<line x1="846" y1="1274.6" x2="857.8" y2="1274.6" stroke="#1a1408" stroke-width="1.4"/>
<line x1="843" y1="1287.5" x2="857.8" y2="1287.5" stroke="#1a1408" stroke-width="1.4"/>
<line x1="846" y1="1299.7" x2="857.8" y2="1299.7" stroke="#1a1408" stroke-width="1.4"/>
<line x1="843" y1="1311.9" x2="857.8" y2="1311.9" stroke="#1a1408" stroke-width="1.4"/>
<line x1="846" y1="1324.7" x2="857.8" y2="1324.7" stroke="#1a1408" stroke-width="1.4"/>
<line x1="843" y1="1336.9" x2="857.8" y2="1336.9" stroke="#1a1408" stroke-width="1.4"/>
<line x1="846" y1="1349.1" x2="857.8" y2="1349.1" stroke="#1a1408" stroke-width="1.4"/>
<line x1="843" y1="1361.3" x2="857.8" y2="1361.3" stroke="#1a1408" stroke-width="1.4"/>
<line x1="846" y1="1373.5" x2="857.8" y2="1373.5" stroke="#1a1408" stroke-width="1.4"/>
<line x1="843" y1="1386.3" x2="857.8" y2="1386.3" stroke="#1a1408" stroke-width="1.4"/>
<line x1="846" y1="1398.0" x2="857.8" y2="1398.0" stroke="#1a1408" stroke-width="1.4"/>
<text transform="translate(838.9,1261.2) rotate(-90) scale(1,1)" font-family="&quot;Liberation Serif&quot;, serif" font-weight="normal" font-size="12" text-anchor="middle" fill="#1a1408">6</text>
<text transform="translate(837.7,1285.9) rotate(-90) scale(0.66,1)" font-family="&quot;Liberation Serif&quot;, serif" font-weight="bold" font-size="37" text-anchor="middle" fill="#1a1408">5</text>
<text transform="translate(837.2,1311.3) rotate(-90) scale(1,1)" font-family="&quot;Liberation Serif&quot;, serif" font-weight="normal" font-size="13" text-anchor="middle" fill="#1a1408">4</text>
<text transform="translate(837.4,1335.7) rotate(-90) scale(1,1)" font-family="&quot;Liberation Serif&quot;, serif" font-weight="normal" font-size="13" text-anchor="middle" fill="#1a1408">3</text>
<text transform="translate(837.4,1360.1) rotate(-90) scale(1,1)" font-family="&quot;Liberation Serif&quot;, serif" font-weight="normal" font-size="13" text-anchor="middle" fill="#1a1408">2</text>
<text transform="translate(837.4,1384.5) rotate(-90) scale(1,1)" font-family="&quot;Liberation Serif&quot;, serif" font-weight="normal" font-size="13" text-anchor="middle" fill="#1a1408">1</text>
<path d="M858,1408 C857,1413 856,1416 855,1420" fill="none" stroke="#c8c040" stroke-width="2" stroke-linecap="round" />
<path d="M298,1288 C270,1280 235,1280 200,1290 C185,1294 175,1296 168,1297 M168,1297 C163,1300 172,1304 176,1300 C182,1298 178,1310 185,1306" fill="none" stroke="#5e7034" stroke-width="2" stroke-linecap="round" />
<path d="M300.6,1242.5 L349.5,1242.5 L346.5,1270.0 L344.5,1300.0 L342.0,1340.0 L340.0,1360.0 L337.0,1380.0 L334.0,1392.0 L326.0,1399.0 L316.0,1397.0 L310.0,1388.0 L308.0,1378.0 L306.0,1360.0 L304.0,1345.0 L301.0,1320.0 L299.0,1300.0 L299.5,1288.0 Z" fill="url(#stemE)" />
<path d="M324.0,1242.5 L339.2,1242.5 L327.0,1350.0 L325.5,1300.0 Z" fill="#1a1a19" />
<path d="M308.6,1242.5 L312.0,1330.0 L317.0,1385.0" fill="none" stroke="#5a7010" stroke-width="1" stroke-linecap="round" stroke-linejoin="round" />
<path d="M305.0,1345.0 L338.0,1345.0 L334.0,1390.0 L326.0,1399.0 L316.0,1397.0 L310.0,1388.0 Z" fill="url(#baseE)" />
<ellipse cx="326" cy="1399" rx="10" ry="5" fill="#d8cc98" opacity="0.9"/>
<path d="M326.0,1398.8 Q334.2,1398.8 340.3,1400.5 M329.2,1398.8 Q320.5,1400.8 318.3,1406.3 M323.4,1400.3 Q323.1,1401.0 320.6,1401.1 M330.2,1398.6 Q320.8,1399.2 319.3,1399.1 M325.4,1399.0 Q328.7,1399.4 335.3,1402.0 M324.0,1397.6 Q328.6,1400.2 333.4,1401.8 M330.7,1400.1 Q320.9,1398.7 314.7,1401.0 M330.2,1398.8 Q331.7,1400.2 335.5,1399.7 M329.7,1400.0 Q319.1,1400.5 313.8,1401.4 M328.9,1398.7 Q324.0,1401.7 325.8,1406.5 M324.8,1398.8 Q332.4,1400.8 337.1,1401.3 M325.9,1397.6 Q325.9,1402.9 325.6,1407.7 M325.0,1398.0 Q334.4,1398.6 338.9,1397.5 M329.5,1398.2 Q327.0,1404.1 325.9,1408.9 M323.8,1399.1 Q325.9,1403.7 325.2,1408.7 M329.7,1399.7 Q324.0,1399.9 319.7,1398.3 M321.7,1400.1 Q321.0,1400.0 315.4,1401.7 M324.6,1398.5 Q324.9,1401.4 323.8,1404.0 M321.5,1398.2 Q325.5,1402.7 324.2,1406.7 M328.9,1399.9 Q333.1,1401.4 337.4,1401.4 M321.4,1397.5 Q332.5,1400.0 337.7,1404.3 M324.5,1397.7 Q320.8,1401.0 318.7,1402.1 M328.0,1398.9 Q330.2,1399.0 337.1,1400.9 M325.2,1398.1 Q327.6,1401.2 332.9,1404.3 M327.0,1400.0 Q333.5,1398.2 341.0,1399.6 M322.7,1399.6 Q327.8,1399.3 332.3,1397.9" fill="none" stroke="#e0d4a8" stroke-width="1.1" stroke-linecap="round" opacity="0.9"/>
<path d="M342.8,1402.7 Q335.7,1404.4 334.9,1410.1 M340.7,1401.0 Q342.4,1404.7 344.0,1406.6 M343.8,1402.1 Q345.1,1404.8 348.5,1403.7 M339.7,1401.5 Q341.8,1401.0 347.4,1403.7 M337.8,1400.6 Q346.6,1402.9 353.0,1403.2 M341.5,1401.0 Q343.4,1403.9 346.7,1401.9 M342.2,1402.9 Q339.8,1407.5 337.7,1409.8 M342.1,1402.6 Q348.8,1400.9 353.8,1402.6 M340.0,1403.0 Q344.6,1405.0 349.3,1404.5 M340.6,1403.3 Q348.1,1402.1 353.0,1402.5 M341.7,1401.0 Q340.5,1404.2 343.3,1407.9 M343.8,1402.6 Q340.7,1403.7 338.2,1406.9 M338.4,1401.1 Q344.9,1404.0 348.5,1405.3 M342.7,1402.7 Q346.2,1402.6 351.4,1406.6" fill="none" stroke="#c8c890" stroke-width="1.0" stroke-linecap="round" opacity="0.8"/>
<path d="M337.0,1400.0 L342.0,1401.0 L346.0,1416.0 L344.0,1421.0 L340.0,1416.0 Z" fill="#c09a68" />
<path d="M452.0,1273.0 L425.5,1242.5" fill="none" stroke="#6e7e38" stroke-width="2" stroke-linecap="round" stroke-linejoin="round" />
<path d="M451.6,1273.0 L455.0,1273.0 L458.0,1390.0 L455.0,1390.0 Z" fill="#9aa838" />
<path d="M458.0,1242.5 L492.5,1242.5 L487.0,1320.0 L480.0,1375.0 L476.0,1392.0 L466.0,1396.0 L458.0,1390.0 L457.0,1300.0 Z" fill="url(#stemE)" />
<path d="M475.6,1242.5 L483.3,1242.5 L477.0,1365.0 L476.5,1300.0 Z" fill="#1a1a19" />
<path d="M455.0,1350.0 L482.0,1350.0 L476.0,1392.0 L466.0,1396.0 L458.0,1390.0 Z" fill="url(#baseE)" />
<ellipse cx="468" cy="1394" rx="11" ry="5" fill="#d8cca0" opacity="0.9"/>
<path d="M469.1,1392.7 Q472.1,1395.6 477.2,1396.4 M472.2,1393.9 Q472.7,1391.3 479.3,1390.7 M469.1,1395.1 Q464.0,1393.4 458.8,1395.7 M470.2,1394.3 Q468.7,1395.6 467.9,1400.8 M469.8,1395.1 Q471.7,1395.0 472.5,1396.1 M467.5,1395.3 Q462.9,1397.9 458.7,1399.5 M471.9,1393.8 Q463.4,1393.1 461.6,1394.5 M466.7,1394.3 Q466.4,1395.7 464.7,1398.2 M471.0,1395.5 Q467.1,1399.4 464.7,1401.3 M471.4,1394.2 Q467.5,1397.5 464.1,1397.3 M466.2,1392.7 Q466.8,1395.8 462.9,1397.0 M467.2,1393.0 Q459.6,1396.1 454.5,1395.9 M469.0,1392.6 Q474.3,1394.3 477.6,1398.2 M468.0,1395.5 Q466.5,1397.6 462.0,1397.4 M465.5,1393.7 Q470.7,1393.3 472.7,1396.4 M466.4,1395.4 Q465.0,1397.3 465.6,1397.7 M469.2,1394.3 Q463.5,1394.2 459.2,1394.3 M467.4,1394.7 Q469.0,1397.1 466.4,1400.1 M468.4,1392.5 Q473.6,1395.1 475.4,1395.9 M469.1,1392.7 Q468.3,1397.2 472.3,1399.4 M469.7,1394.7 Q466.8,1395.9 464.1,1399.0 M465.9,1393.9 Q471.5,1395.1 473.5,1392.5 M466.9,1394.3 Q466.3,1395.5 465.7,1398.5 M468.6,1394.7 Q472.5,1393.7 474.8,1397.2" fill="none" stroke="#e4d8b0" stroke-width="1.1" stroke-linecap="round" opacity="0.9"/>
<path d="M478.9,1397.7 Q484.3,1396.4 487.5,1397.6 M482.3,1397.3 Q483.2,1400.0 482.3,1404.2 M484.4,1398.9 Q483.5,1399.3 487.4,1397.1 M483.7,1399.1 Q482.2,1400.2 483.9,1401.4 M482.0,1397.0 Q482.7,1400.3 482.6,1401.1 M482.3,1397.4 Q486.2,1400.2 486.9,1399.4 M482.1,1397.7 Q483.7,1402.0 482.4,1403.2 M484.3,1396.6 Q483.5,1398.8 487.7,1401.2 M481.8,1397.5 Q485.0,1396.6 489.8,1395.0 M483.0,1397.3 Q481.1,1398.6 481.0,1401.6 M484.9,1396.8 Q486.3,1398.7 492.0,1399.0 M480.1,1397.5 Q485.8,1397.5 487.5,1396.0 M484.9,1399.4 Q484.1,1398.2 489.8,1396.8 M485.4,1398.8 Q482.7,1400.2 487.3,1404.1" fill="none" stroke="#d0c898" stroke-width="1.0" stroke-linecap="round" opacity="0.8"/>
<path d="M474,1399 C484,1405 492,1408 503,1406" fill="none" stroke="#8aa838" stroke-width="2.6" stroke-linecap="round" />
<path d="M505.0,1395.0 L508.5,1405.0 L508.0,1425.0 L505.0,1437.0 L502.0,1422.0 L501.5,1405.0 Z" fill="#b08a5c" />
<path d="M583.1,1242.5 L614.2,1242.5 L612.0,1300.0 L611.0,1395.0 L606.0,1404.0 L596.0,1404.0 L591.0,1398.0 L588.0,1360.0 L585.0,1300.0 Z" fill="url(#stemE)" />
<path d="M600.0,1242.5 L606.4,1242.5 L605.0,1380.0 L602.0,1380.0 L601.0,1300.0 Z" fill="#1a1a19" />
<path d="M592.0,1242.5 L582.0,1256.0 L569.5,1272.5" fill="none" stroke="#8c7454" stroke-width="3.6" stroke-linecap="round" stroke-linejoin="round" />
<path d="M591.0,1243.0 L570.5,1271.0" fill="none" stroke="#a89070" stroke-width="1.2" stroke-linecap="round" stroke-linejoin="round" />
<linearGradient id="tanE2" x1="0" y1="0" x2="0" y2="1"><stop offset="0" stop-color="#a8b040" stop-opacity="0"/><stop offset="0.35" stop-color="#b4a858" stop-opacity="0.8"/><stop offset="1" stop-color="#c8b070" stop-opacity="0.95"/></linearGradient>
<path d="M583.3,1270.0 L589.0,1270.0 L594.0,1398.0 L591.0,1398.0 L588.0,1360.0 L584.5,1300.0 Z" fill="url(#tanE2)" />
<path d="M586.0,1360.0 L612.0,1360.0 L611.0,1395.0 L606.0,1404.0 L596.0,1404.0 L591.0,1398.0 Z" fill="url(#baseE)" />
<ellipse cx="601" cy="1401" rx="9" ry="4.5" fill="#d8cca0" opacity="0.9"/>
<path d="M602.6,1402.3 Q600.1,1405.4 596.8,1406.3 M603.6,1399.8 Q606.4,1401.0 608.3,1399.9 M597.8,1400.2 Q601.5,1403.2 601.7,1404.8 M603.0,1399.9 Q606.0,1401.8 608.8,1405.4 M599.1,1400.1 Q597.9,1404.0 598.7,1404.0 M601.3,1401.5 Q595.3,1401.9 591.2,1399.2 M603.6,1400.4 Q606.6,1404.3 610.6,1403.9 M599.7,1401.3 Q601.0,1400.8 603.8,1404.0 M603.1,1400.9 Q604.5,1399.3 609.4,1399.1 M604.1,1399.6 Q604.3,1401.1 605.9,1404.7 M600.1,1401.2 Q595.0,1404.0 592.8,1404.6 M599.0,1401.8 Q602.0,1402.4 605.5,1400.1 M601.2,1401.8 Q595.1,1400.2 590.4,1400.5 M597.9,1402.3 Q606.8,1402.6 610.3,1401.4 M599.9,1402.3 Q604.8,1402.7 607.6,1401.0 M598.2,1399.9 Q599.7,1401.7 599.9,1405.1 M604.2,1401.1 Q596.0,1401.8 593.7,1406.2 M600.7,1400.8 Q602.4,1404.1 603.1,1404.6 M603.2,1399.9 Q604.3,1400.5 611.4,1400.1 M598.4,1400.8 Q597.4,1404.3 592.7,1405.3 M604.3,1402.1 Q605.0,1401.5 610.7,1402.4 M600.9,1400.4 Q597.4,1401.3 593.8,1399.8" fill="none" stroke="#e4d8b0" stroke-width="1.1" stroke-linecap="round" opacity="0.9"/>
<path d="M606,1399 C615,1392 622,1398 628,1396 C634,1394 636,1400 640,1397" fill="none" stroke="#c8bc98" stroke-width="1.1" stroke-linecap="round" />
<path d="M584,1320 C580,1335 585,1345 583,1360 C581,1370 586,1375 584,1385" fill="none" stroke="#c8bc98" stroke-width="1.1" stroke-linecap="round" />
<path d="M612,1362 C620,1366 618,1372 622,1375" fill="none" stroke="#c8bc98" stroke-width="1.1" stroke-linecap="round" />
<path d="M609,1404 C625,1408 638,1418 645,1430 L652,1441" fill="none" stroke="#8cb040" stroke-width="3" stroke-linecap="round" />
<path d="M654.0,1434.0 L659.0,1440.0 L661.0,1455.0 L660.0,1466.0 L655.0,1455.0 L652.0,1442.0 Z" fill="#b08254" />
<path d="M648,1425 C644,1418 652,1415 654,1422 C656,1428 650,1432 656,1435 M656,1432 C662,1430 668,1436 670,1440" fill="none" stroke="#b8b0a0" stroke-width="1.1" stroke-linecap="round" />
<path d="M993.0,1242.5 L995.0,1300.0 L999.6,1408.0" fill="none" stroke="#8aa432" stroke-width="3.2" stroke-linecap="round" stroke-linejoin="round" />
<path d="M1050.6,1242.5 L1036.0,1284.0" fill="none" stroke="#6a5c34" stroke-width="2" stroke-linecap="round" stroke-linejoin="round" />
<path d="M1004.3,1242.5 L1040.6,1242.5 L1035,1310 L1025,1374 L1022,1405 Q1020,1414 1011,1414 Q1001,1413 1000.5,1405 L1000,1374 L1002,1300 Z" fill="url(#stemF)"/>
<path d="M1026.5,1242.5 L1031.8,1242.5 L1026.0,1306.0 Z" fill="#1a1a19" />
<path d="M1011.6,1242.5 L1012.0,1360.0" fill="none" stroke="#5a7018" stroke-width="1" stroke-linecap="round" stroke-linejoin="round" />
<path d="M1000,1330 L1031,1330 L1025,1374 L1022,1405 Q1020,1414 1011,1414 Q1001,1413 1000.5,1405 L1000,1374 Z" fill="url(#baseF)"/>
<path d="M1032.0,1300.0 L1029.0,1330.0 L1025.0,1374.0 L1022.0,1402.0 L1018.0,1404.0 L1021.0,1374.0 L1025.0,1330.0 L1028.0,1300.0 Z" fill="#8aa828" opacity="0.85"/>
<path d="M1012,1420 C1018,1416 1026,1413 1030,1416 C1028,1422 1020,1426 1013,1425 Z" fill="#9a7a52"/>
<ellipse cx="1008" cy="1417" rx="8" ry="4" fill="#d0c8a8" opacity="0.85"/>
<path d="M1005.0,1416.5 Q1003.8,1416.3 999.8,1418.5 M1006.6,1416.9 Q1007.6,1420.1 1008.2,1422.0 M1006.2,1416.2 Q1005.6,1418.1 1002.8,1418.7 M1010.1,1415.5 Q1006.6,1417.4 1002.8,1417.4 M1005.6,1415.1 Q1013.6,1416.3 1016.7,1417.0 M1006.2,1416.5 Q1008.2,1418.0 1004.8,1419.4 M1008.9,1416.6 Q1011.6,1419.1 1012.0,1422.1 M1008.6,1415.4 Q1001.5,1416.7 998.8,1418.5 M1005.7,1416.5 Q1008.6,1417.6 1006.2,1418.9 M1006.3,1417.1 Q1009.4,1416.0 1010.9,1419.0 M1007.0,1417.2 Q1007.6,1415.0 1005.0,1418.0 M1005.8,1417.5 Q1006.0,1417.3 1005.1,1419.5 M1010.9,1415.2 Q1012.3,1415.6 1014.5,1416.1 M1007.7,1417.0 Q1004.2,1416.7 999.0,1414.2 M1007.5,1414.8 Q1004.6,1417.8 1001.5,1417.9 M1006.0,1414.6 Q1005.6,1418.2 1003.3,1418.1 M1007.7,1417.3 Q1011.1,1415.7 1015.2,1417.4 M1006.6,1415.9 Q1011.9,1418.0 1012.7,1419.1 M1009.8,1415.5 Q1007.5,1416.9 1008.0,1419.4 M1008.6,1415.5 Q1006.6,1418.2 1001.9,1421.4" fill="none" stroke="#d8d0b0" stroke-width="1.0" stroke-linecap="round" opacity="0.9"/>
<path d="M1091.3,1258.0 L1140.4,1299.8 L1142.0,1330.0 L1150.0,1385.0" fill="none" stroke="#7a5a3a" stroke-width="2" stroke-linecap="round" stroke-linejoin="round" />
<path d="M1186.0,1242.5 L1178.0,1253.0 L1176.0,1300.0 L1170.6,1381.0" fill="none" stroke="#7a9030" stroke-width="3" stroke-linecap="round" stroke-linejoin="round" />
<path d="M1139.0,1242.5 L1163.3,1242.5 L1164.0,1300.0 L1168.0,1370.0 L1170.0,1385.0 L1162.0,1392.0 L1152.0,1390.0 L1147.0,1370.0 L1142.0,1300.0 Z" fill="url(#stemF)" />
<path d="M1144.6,1242.5 L1150.0,1370.0" fill="none" stroke="#5a7018" stroke-width="1" stroke-linecap="round" stroke-linejoin="round" />
<path d="M1156.2,1242.5 L1160.0,1370.0" fill="none" stroke="#5a7018" stroke-width="1" stroke-linecap="round" stroke-linejoin="round" />
<path d="M1145.0,1340.0 L1167.0,1340.0 L1170.0,1385.0 L1162.0,1392.0 L1152.0,1390.0 Z" fill="url(#baseF)" />
<path d="M1160.2,1389.6 Q1162.0,1389.5 1162.8,1392.4 M1157.4,1388.8 Q1161.7,1389.8 1167.0,1390.1 M1160.8,1391.3 Q1159.7,1391.5 1162.3,1395.2 M1162.2,1389.4 Q1161.1,1390.0 1158.3,1393.7 M1158.1,1390.2 Q1161.5,1391.7 1164.5,1390.9 M1157.4,1389.1 Q1158.7,1389.9 1157.1,1393.3 M1159.7,1389.4 Q1157.3,1391.9 1156.1,1393.2 M1160.2,1391.1 Q1155.5,1391.6 1153.0,1392.5 M1159.5,1390.8 Q1159.9,1389.7 1155.9,1392.4 M1161.6,1390.2 Q1161.4,1391.4 1166.5,1391.4 M1160.5,1389.9 Q1157.9,1390.8 1154.3,1390.9 M1157.4,1390.6 Q1155.4,1391.7 1151.0,1392.2 M1159.3,1390.5 Q1158.8,1391.7 1155.1,1395.2 M1157.4,1390.8 Q1162.0,1388.3 1166.7,1389.6" fill="none" stroke="#c8c0a0" stroke-width="1.0" stroke-linecap="round" opacity="0.8"/>
<path d="M1155,1392 C1160,1402 1165,1410 1172,1414 C1178,1418 1182,1420 1186,1422" fill="none" stroke="#7a9040" stroke-width="4" stroke-linecap="round" />
<path d="M1174.0,1416.0 L1186.0,1414.0 L1189.0,1422.0 L1182.0,1430.0 L1172.0,1428.0 Z" fill="#8a6a48" />
<path d="M1302.8,1242.5 L1306.0,1242.5 L1318.0,1270.0 L1329.0,1290.0 L1330.0,1305.0 L1326.0,1305.0 L1310.0,1285.0 Z" fill="#4e7028" />
<path d="M1327.6,1304.5 L1333.0,1363.7" fill="none" stroke="#b09040" stroke-width="2" stroke-linecap="round" stroke-linejoin="round" />
<path d="M1399.5,1242.5 L1405.0,1242.5 L1351.0,1367.0 L1347.0,1365.0 Z" fill="#98b030" />
<path d="M1331.7,1242.5 L1345.1,1242.5 L1348.5,1358.0 L1345.0,1366.0 L1336.0,1366.0 L1333.0,1358.0 Z" fill="url(#stemF)" />
<path d="M1332.0,1335.0 L1349.0,1335.0 L1348.5,1358.0 L1345.0,1366.0 L1336.0,1366.0 L1333.0,1358.0 Z" fill="url(#baseE)" />
<ellipse cx="1341" cy="1368" rx="8" ry="5" fill="#d8d0b8" opacity="0.9"/>
<path d="M1338.5,1367.2 Q1343.7,1371.7 1349.5,1373.8 M1340.7,1368.0 Q1339.1,1366.8 1336.1,1365.9 M1338.1,1367.3 Q1343.5,1369.0 1349.3,1372.1 M1339.6,1369.5 Q1342.2,1371.8 1344.3,1378.6 M1340.0,1368.6 Q1344.3,1368.1 1348.7,1367.0 M1338.9,1366.7 Q1342.6,1373.1 1341.1,1377.5 M1341.5,1368.7 Q1336.3,1369.2 1334.1,1366.8 M1338.8,1368.8 Q1337.6,1369.9 1335.3,1368.7 M1343.1,1368.0 Q1345.9,1369.9 1349.1,1368.3 M1338.4,1369.2 Q1343.4,1369.2 1345.5,1370.3 M1338.1,1367.5 Q1339.8,1371.9 1340.8,1377.8 M1343.3,1367.0 Q1343.1,1371.8 1346.1,1372.9 M1339.2,1368.8 Q1342.6,1372.7 1342.9,1373.5 M1339.0,1367.8 Q1343.5,1369.1 1343.8,1371.5 M1341.5,1367.4 Q1343.6,1369.7 1346.5,1372.0 M1340.2,1368.9 Q1341.7,1368.1 1345.5,1368.1 M1338.1,1366.9 Q1342.8,1371.2 1340.8,1377.9 M1343.8,1366.5 Q1343.5,1371.5 1344.1,1376.1 M1343.8,1368.8 Q1340.0,1367.0 1335.9,1369.8 M1340.6,1366.8 Q1336.2,1368.5 1333.9,1365.2 M1338.7,1368.2 Q1339.5,1370.5 1338.3,1375.7 M1342.3,1367.9 Q1341.2,1371.7 1341.9,1373.6 M1340.7,1366.8 Q1341.1,1370.2 1343.4,1374.8 M1340.2,1367.8 Q1338.3,1369.3 1334.7,1374.4" fill="none" stroke="#e0d8c0" stroke-width="1.0" stroke-linecap="round" opacity="0.85"/>
<path d="M1341,1378 C1340,1386 1338,1392 1334,1393 C1330,1396 1336,1404 1334,1412 C1332,1420 1330,1425 1326,1427" fill="none" stroke="#a0b040" stroke-width="2.5" stroke-linecap="round" />
<ellipse cx="1321.9" cy="1421" rx="6.2" ry="8.2" fill="#8a6840" transform="rotate(20 1321.9 1421)"/>
<path d="M424.5,1398.0 L447.0,1398.0 L447.0,1404.8 L458.0,1395.5 L447.0,1386.2 L447.0,1393.0 L424.5,1393.0 Z" fill="#fff" />
<path d="M469.9,1432.3 L490.0,1424.7 L492.4,1431.0 L499.4,1418.4 L485.8,1413.6 L488.2,1420.0 L468.1,1427.7 Z" fill="#fff" />
<path d="M567.0,1403.3 L589.0,1403.3 L589.0,1410.1 L600.0,1400.8 L589.0,1391.5 L589.0,1398.3 L567.0,1398.3 Z" fill="#fff" />
<path d="M613.4,1437.0 L633.7,1432.0 L635.3,1438.7 L643.8,1427.0 L630.9,1420.6 L632.5,1427.2 L612.2,1432.2 Z" fill="#fff" />
<path d="M1120.0,1390.5 L1142.5,1390.5 L1142.5,1396.8 L1153.0,1388.0 L1142.5,1379.2 L1142.5,1385.5 L1120.0,1385.5 Z" fill="#fff" />
<path d="M1142.4,1427.3 L1162.7,1419.2 L1165.0,1425.0 L1171.5,1413.0 L1158.5,1408.8 L1160.8,1414.6 L1140.6,1422.7 Z" fill="#fff" />
<path d="M1301.5,1370.5 L1323.5,1370.5 L1323.5,1376.8 L1334.0,1368.0 L1323.5,1359.2 L1323.5,1365.5 L1301.5,1365.5 Z" fill="#fff" />
<path d="M1284.0,1423.0 L1306.0,1423.0 L1306.0,1429.2 L1316.5,1420.5 L1306.0,1411.8 L1306.0,1418.0 L1284.0,1418.0 Z" fill="#fff" />
<text x="86.0" y="1469.3" font-size="44" text-anchor="start" fill="#fff" >CY6709</text>
<text x="293.0" y="1469.3" font-size="44" text-anchor="start" fill="#fff" >M0</text>
<text x="449.0" y="1469.3" font-size="44" text-anchor="start" fill="#fff" >M1</text>
<text x="567.0" y="1469.3" font-size="44" text-anchor="start" fill="#fff" >M2</text>
<text x="813.5" y="1469.3" font-size="44" text-anchor="start" fill="#fff" >GCII</text>
<text x="984.0" y="1469.3" font-size="44" text-anchor="start" fill="#fff" >M0</text>
<text x="1142.5" y="1469.3" font-size="44" text-anchor="start" fill="#fff" >M1</text>
<text x="1303.0" y="1469.3" font-size="44" text-anchor="start" fill="#fff" >M2</text>
<text x="-0.5" y="25" font-family="&quot;Liberation Sans&quot;, sans-serif" font-weight="bold" font-size="30">A</text>
<text x="730.2" y="25" font-family="&quot;Liberation Sans&quot;, sans-serif" font-weight="bold" font-size="30">B</text>
<text x="0" y="613.5" font-family="&quot;Liberation Sans&quot;, sans-serif" font-weight="bold" font-size="30">C</text>
<text x="729.5" y="613.6" font-family="&quot;Liberation Sans&quot;, sans-serif" font-weight="bold" font-size="30">D</text>
<text x="0" y="1227.2" font-family="&quot;Liberation Sans&quot;, sans-serif" font-weight="bold" font-size="30">E</text>
<text x="732" y="1227.2" font-family="&quot;Liberation Sans&quot;, sans-serif" font-weight="bold" font-size="30">F</text>
</svg>
</body></html>
